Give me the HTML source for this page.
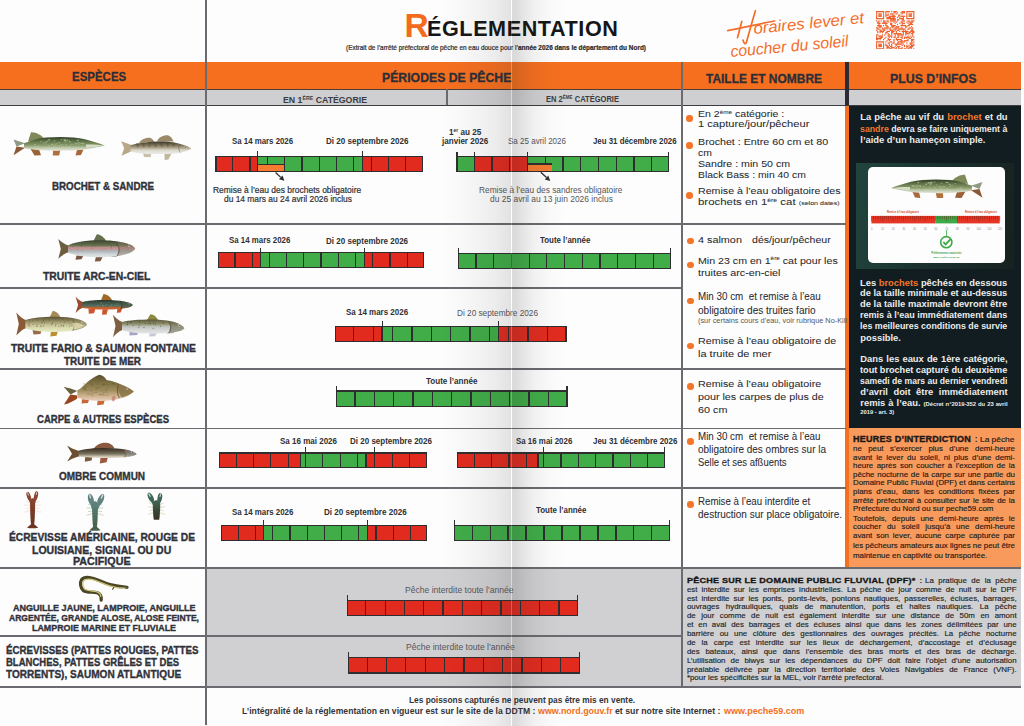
<!DOCTYPE html>
<html><head><meta charset="utf-8"><style>
html,body{margin:0;padding:0;width:1024px;height:726px;overflow:hidden;background:#fdfdfd}
body{position:relative;font-family:"Liberation Sans", sans-serif}
sup{font-size:0.55em;vertical-align:0;position:relative;top:-0.55em}
</style></head><body>
<div style="position:absolute;left:0;top:0;width:1024px;height:726px;background:#fdfdfd"></div>
<div style="position:absolute;left:0px;top:62px;width:1021px;height:27px;background:#f66f1f;"></div>
<div style="position:absolute;left:0px;top:89px;width:1021px;height:16px;background:#cfcfd2;"></div>
<div style="position:absolute;left:207px;top:568px;width:475px;height:119px;background:#d0d0d2;"></div>
<div style="position:absolute;left:683px;top:568px;width:338px;height:119px;background:#d0d0d2;"></div>
<div style="position:absolute;left:849px;top:105px;width:172px;height:323px;background:#111d21;"></div>
<div style="position:absolute;left:849px;top:428px;width:172px;height:140px;background:#f99a5d;"></div>
<div style="position:absolute;left:845px;top:105px;width:4px;height:463px;background:#f66f1f;"></div>
<div style="position:absolute;left:0px;top:88.8px;width:1021px;height:1.6px;background:#4a3e38;"></div>
<div style="position:absolute;left:0px;top:104.5px;width:1021px;height:1.8px;background:#3c3c40;"></div>
<div style="position:absolute;left:0px;top:223.1px;width:846px;height:1.8px;background:#6a6a70;"></div>
<div style="position:absolute;left:0px;top:368.1px;width:846px;height:1.8px;background:#6a6a70;"></div>
<div style="position:absolute;left:0px;top:427.6px;width:846px;height:1.8px;background:#6a6a70;"></div>
<div style="position:absolute;left:0px;top:487.1px;width:846px;height:1.8px;background:#6a6a70;"></div>
<div style="position:absolute;left:0px;top:287.1px;width:682px;height:1.8px;background:#6a6a70;"></div>
<div style="position:absolute;left:0px;top:567.1px;width:1021px;height:1.8px;background:#6a6a70;"></div>
<div style="position:absolute;left:0px;top:635.1px;width:682px;height:1.8px;background:#6a6a70;"></div>
<div style="position:absolute;left:0px;top:686.1px;width:1021px;height:1.8px;background:#6a6a70;"></div>
<div style="position:absolute;left:205.4px;top:0px;width:1.8px;height:725px;background:#6a6a70;"></div>
<div style="position:absolute;left:681.4px;top:62px;width:1.8px;height:625px;background:#6a6a70;"></div>
<div style="position:absolute;left:445.90000000000003px;top:89px;width:1.8px;height:16px;background:#6a6a70;"></div>
<div style="position:absolute;left:845.0px;top:62px;width:4px;height:43px;background:#2a2c35;"></div>
<div style="position:absolute;left:215.4px;top:156.2px;width:207.70px;height:16.200000000000017px;background:#2e2e30"></div>
<div style="position:absolute;left:216.60px;top:157.40px;width:15.51px;height:13.80px;background:#e22b1f"></div>
<div style="position:absolute;left:233.31px;top:157.40px;width:16.11px;height:13.80px;background:#e22b1f"></div>
<div style="position:absolute;left:250.62px;top:157.40px;width:6.48px;height:13.80px;background:#e22b1f"></div>
<div style="position:absolute;left:258.30px;top:157.40px;width:8.42px;height:13.80px;background:#40ad48"></div>
<div style="position:absolute;left:267.92px;top:157.40px;width:16.11px;height:13.80px;background:#40ad48"></div>
<div style="position:absolute;left:285.23px;top:157.40px;width:16.11px;height:13.80px;background:#40ad48"></div>
<div style="position:absolute;left:302.54px;top:157.40px;width:16.11px;height:13.80px;background:#40ad48"></div>
<div style="position:absolute;left:319.85px;top:157.40px;width:16.11px;height:13.80px;background:#40ad48"></div>
<div style="position:absolute;left:337.16px;top:157.40px;width:16.11px;height:13.80px;background:#40ad48"></div>
<div style="position:absolute;left:354.47px;top:157.40px;width:7.43px;height:13.80px;background:#40ad48"></div>
<div style="position:absolute;left:363.10px;top:157.40px;width:7.48px;height:13.80px;background:#e22b1f"></div>
<div style="position:absolute;left:371.78px;top:157.40px;width:16.10px;height:13.80px;background:#e22b1f"></div>
<div style="position:absolute;left:389.08px;top:157.40px;width:16.11px;height:13.80px;background:#e22b1f"></div>
<div style="position:absolute;left:406.39px;top:157.40px;width:15.51px;height:13.80px;background:#e22b1f"></div>
<div style="position:absolute;left:257.7px;top:163.65px;width:26.7px;height:8.748000000000019px;background:#2e2e30;"></div>
<div style="position:absolute;left:258.3px;top:164.85px;width:25.5px;height:6.35px;background:#f47b30;"></div>
<div style="position:absolute;left:257.1px;top:150.5px;width:1.2px;height:6.7px;background:#2e2e30;"></div>
<div style="position:absolute;left:361.9px;top:150.5px;width:1.2px;height:6.7px;background:#2e2e30;"></div>
<svg style="position:absolute;left:0;top:0" width="1024" height="726"><line x1="275.6" y1="172.6" x2="280.74" y2="177.39" stroke="#2e2e30" stroke-width="1.3"/><polygon points="284.4,180.8 278.97,179.29 282.51,175.49" fill="#2e2e30"/></svg>
<div style="position:absolute;left:456.4px;top:156.0px;width:213.00px;height:16.0px;background:#2e2e30"></div>
<div style="position:absolute;left:457.60px;top:157.20px;width:15.95px;height:13.60px;background:#40ad48"></div>
<div style="position:absolute;left:474.75px;top:157.20px;width:16.55px;height:13.60px;background:#e22b1f"></div>
<div style="position:absolute;left:492.50px;top:157.20px;width:16.55px;height:13.60px;background:#e22b1f"></div>
<div style="position:absolute;left:510.25px;top:157.20px;width:16.55px;height:13.60px;background:#e22b1f"></div>
<div style="position:absolute;left:528.00px;top:157.20px;width:16.55px;height:13.60px;background:#40ad48"></div>
<div style="position:absolute;left:545.75px;top:157.20px;width:16.55px;height:13.60px;background:#40ad48"></div>
<div style="position:absolute;left:563.50px;top:157.20px;width:16.55px;height:13.60px;background:#40ad48"></div>
<div style="position:absolute;left:581.25px;top:157.20px;width:16.55px;height:13.60px;background:#40ad48"></div>
<div style="position:absolute;left:599.00px;top:157.20px;width:16.55px;height:13.60px;background:#40ad48"></div>
<div style="position:absolute;left:616.75px;top:157.20px;width:16.55px;height:13.60px;background:#40ad48"></div>
<div style="position:absolute;left:634.50px;top:157.20px;width:16.55px;height:13.60px;background:#40ad48"></div>
<div style="position:absolute;left:652.25px;top:157.20px;width:15.95px;height:13.60px;background:#40ad48"></div>
<div style="position:absolute;left:527.2px;top:163.36px;width:25.3px;height:8.639999999999986px;background:#2e2e30;"></div>
<div style="position:absolute;left:527.8px;top:164.56px;width:24.1px;height:6.24px;background:#f47b30;"></div>
<div style="position:absolute;left:456.4px;top:152.0px;width:1.2px;height:5.0px;background:#2e2e30;"></div>
<div style="position:absolute;left:473.6px;top:152.0px;width:1.2px;height:5.0px;background:#2e2e30;"></div>
<div style="position:absolute;left:526.6px;top:152.0px;width:1.2px;height:5.0px;background:#2e2e30;"></div>
<div style="position:absolute;left:668.2px;top:152.0px;width:1.2px;height:5.0px;background:#2e2e30;"></div>
<svg style="position:absolute;left:0;top:0" width="1024" height="726"><line x1="540.8" y1="172.2" x2="546.53" y2="177.50" stroke="#2e2e30" stroke-width="1.3"/><polygon points="550.2,180.9 544.76,179.41 548.30,175.60" fill="#2e2e30"/></svg>
<div style="position:absolute;left:217.7px;top:252.1px;width:206.70px;height:16.200000000000017px;background:#2e2e30"></div>
<div style="position:absolute;left:218.90px;top:253.30px;width:15.42px;height:13.80px;background:#e22b1f"></div>
<div style="position:absolute;left:235.52px;top:253.30px;width:16.03px;height:13.80px;background:#e22b1f"></div>
<div style="position:absolute;left:252.75px;top:253.30px;width:7.05px;height:13.80px;background:#e22b1f"></div>
<div style="position:absolute;left:261.00px;top:253.30px;width:7.78px;height:13.80px;background:#40ad48"></div>
<div style="position:absolute;left:269.98px;top:253.30px;width:16.02px;height:13.80px;background:#40ad48"></div>
<div style="position:absolute;left:287.20px;top:253.30px;width:16.02px;height:13.80px;background:#40ad48"></div>
<div style="position:absolute;left:304.42px;top:253.30px;width:16.03px;height:13.80px;background:#40ad48"></div>
<div style="position:absolute;left:321.65px;top:253.30px;width:16.02px;height:13.80px;background:#40ad48"></div>
<div style="position:absolute;left:338.87px;top:253.30px;width:16.03px;height:13.80px;background:#40ad48"></div>
<div style="position:absolute;left:356.10px;top:253.30px;width:8.00px;height:13.80px;background:#40ad48"></div>
<div style="position:absolute;left:365.30px;top:253.30px;width:6.82px;height:13.80px;background:#e22b1f"></div>
<div style="position:absolute;left:373.32px;top:253.30px;width:16.03px;height:13.80px;background:#e22b1f"></div>
<div style="position:absolute;left:390.55px;top:253.30px;width:16.02px;height:13.80px;background:#e22b1f"></div>
<div style="position:absolute;left:407.77px;top:253.30px;width:15.43px;height:13.80px;background:#e22b1f"></div>
<div style="position:absolute;left:259.8px;top:247.5px;width:1.2px;height:5.6px;background:#2e2e30;"></div>
<div style="position:absolute;left:364.1px;top:247.5px;width:1.2px;height:5.6px;background:#2e2e30;"></div>
<div style="position:absolute;left:458.2px;top:252.6px;width:212.80px;height:16.299999999999983px;background:#2e2e30"></div>
<div style="position:absolute;left:459.40px;top:253.80px;width:15.93px;height:13.90px;background:#40ad48"></div>
<div style="position:absolute;left:476.53px;top:253.80px;width:16.54px;height:13.90px;background:#40ad48"></div>
<div style="position:absolute;left:494.27px;top:253.80px;width:16.53px;height:13.90px;background:#40ad48"></div>
<div style="position:absolute;left:512.00px;top:253.80px;width:16.53px;height:13.90px;background:#40ad48"></div>
<div style="position:absolute;left:529.73px;top:253.80px;width:16.54px;height:13.90px;background:#40ad48"></div>
<div style="position:absolute;left:547.47px;top:253.80px;width:16.53px;height:13.90px;background:#40ad48"></div>
<div style="position:absolute;left:565.20px;top:253.80px;width:16.53px;height:13.90px;background:#40ad48"></div>
<div style="position:absolute;left:582.93px;top:253.80px;width:16.54px;height:13.90px;background:#40ad48"></div>
<div style="position:absolute;left:600.67px;top:253.80px;width:16.53px;height:13.90px;background:#40ad48"></div>
<div style="position:absolute;left:618.40px;top:253.80px;width:16.53px;height:13.90px;background:#40ad48"></div>
<div style="position:absolute;left:636.13px;top:253.80px;width:16.54px;height:13.90px;background:#40ad48"></div>
<div style="position:absolute;left:653.87px;top:253.80px;width:15.93px;height:13.90px;background:#40ad48"></div>
<div style="position:absolute;left:458.2px;top:248.0px;width:1.2px;height:5.6px;background:#2e2e30;"></div>
<div style="position:absolute;left:669.8px;top:248.0px;width:1.2px;height:5.6px;background:#2e2e30;"></div>
<div style="position:absolute;left:334.5px;top:325.8px;width:232.20px;height:16.0px;background:#2e2e30"></div>
<div style="position:absolute;left:335.70px;top:327.00px;width:17.55px;height:13.60px;background:#e22b1f"></div>
<div style="position:absolute;left:354.45px;top:327.00px;width:18.15px;height:13.60px;background:#e22b1f"></div>
<div style="position:absolute;left:373.80px;top:327.00px;width:7.70px;height:13.60px;background:#e22b1f"></div>
<div style="position:absolute;left:382.70px;top:327.00px;width:9.25px;height:13.60px;background:#40ad48"></div>
<div style="position:absolute;left:393.15px;top:327.00px;width:18.15px;height:13.60px;background:#40ad48"></div>
<div style="position:absolute;left:412.50px;top:327.00px;width:18.15px;height:13.60px;background:#40ad48"></div>
<div style="position:absolute;left:431.85px;top:327.00px;width:18.15px;height:13.60px;background:#40ad48"></div>
<div style="position:absolute;left:451.20px;top:327.00px;width:18.15px;height:13.60px;background:#40ad48"></div>
<div style="position:absolute;left:470.55px;top:327.00px;width:18.15px;height:13.60px;background:#40ad48"></div>
<div style="position:absolute;left:489.90px;top:327.00px;width:8.30px;height:13.60px;background:#40ad48"></div>
<div style="position:absolute;left:499.40px;top:327.00px;width:8.65px;height:13.60px;background:#e22b1f"></div>
<div style="position:absolute;left:509.25px;top:327.00px;width:18.15px;height:13.60px;background:#e22b1f"></div>
<div style="position:absolute;left:528.60px;top:327.00px;width:18.15px;height:13.60px;background:#e22b1f"></div>
<div style="position:absolute;left:547.95px;top:327.00px;width:17.55px;height:13.60px;background:#e22b1f"></div>
<div style="position:absolute;left:381.5px;top:320.5px;width:1.2px;height:6.3px;background:#2e2e30;"></div>
<div style="position:absolute;left:498.2px;top:320.5px;width:1.2px;height:6.3px;background:#2e2e30;"></div>
<div style="position:absolute;left:335.7px;top:390.3px;width:231.90px;height:16.5px;background:#2e2e30"></div>
<div style="position:absolute;left:336.90px;top:391.50px;width:17.52px;height:14.10px;background:#40ad48"></div>
<div style="position:absolute;left:355.62px;top:391.50px;width:18.13px;height:14.10px;background:#40ad48"></div>
<div style="position:absolute;left:374.95px;top:391.50px;width:18.13px;height:14.10px;background:#40ad48"></div>
<div style="position:absolute;left:394.28px;top:391.50px;width:18.12px;height:14.10px;background:#40ad48"></div>
<div style="position:absolute;left:413.60px;top:391.50px;width:18.12px;height:14.10px;background:#40ad48"></div>
<div style="position:absolute;left:432.92px;top:391.50px;width:18.13px;height:14.10px;background:#40ad48"></div>
<div style="position:absolute;left:452.25px;top:391.50px;width:18.13px;height:14.10px;background:#40ad48"></div>
<div style="position:absolute;left:471.58px;top:391.50px;width:18.12px;height:14.10px;background:#40ad48"></div>
<div style="position:absolute;left:490.90px;top:391.50px;width:18.12px;height:14.10px;background:#40ad48"></div>
<div style="position:absolute;left:510.22px;top:391.50px;width:18.13px;height:14.10px;background:#40ad48"></div>
<div style="position:absolute;left:529.55px;top:391.50px;width:18.13px;height:14.10px;background:#40ad48"></div>
<div style="position:absolute;left:548.88px;top:391.50px;width:17.52px;height:14.10px;background:#40ad48"></div>
<div style="position:absolute;left:335.7px;top:385.7px;width:1.2px;height:5.6px;background:#2e2e30;"></div>
<div style="position:absolute;left:566.4px;top:385.7px;width:1.2px;height:5.6px;background:#2e2e30;"></div>
<div style="position:absolute;left:218.9px;top:452.3px;width:207.90px;height:15.5px;background:#2e2e30"></div>
<div style="position:absolute;left:220.10px;top:453.50px;width:15.52px;height:13.10px;background:#e22b1f"></div>
<div style="position:absolute;left:236.82px;top:453.50px;width:16.13px;height:13.10px;background:#e22b1f"></div>
<div style="position:absolute;left:254.15px;top:453.50px;width:16.13px;height:13.10px;background:#e22b1f"></div>
<div style="position:absolute;left:271.48px;top:453.50px;width:16.12px;height:13.10px;background:#e22b1f"></div>
<div style="position:absolute;left:288.80px;top:453.50px;width:11.00px;height:13.10px;background:#e22b1f"></div>
<div style="position:absolute;left:301.00px;top:453.50px;width:3.92px;height:13.10px;background:#40ad48"></div>
<div style="position:absolute;left:306.12px;top:453.50px;width:16.13px;height:13.10px;background:#40ad48"></div>
<div style="position:absolute;left:323.45px;top:453.50px;width:16.13px;height:13.10px;background:#40ad48"></div>
<div style="position:absolute;left:340.78px;top:453.50px;width:16.12px;height:13.10px;background:#40ad48"></div>
<div style="position:absolute;left:358.10px;top:453.50px;width:7.30px;height:13.10px;background:#40ad48"></div>
<div style="position:absolute;left:366.60px;top:453.50px;width:7.62px;height:13.10px;background:#e22b1f"></div>
<div style="position:absolute;left:375.42px;top:453.50px;width:16.13px;height:13.10px;background:#e22b1f"></div>
<div style="position:absolute;left:392.75px;top:453.50px;width:16.13px;height:13.10px;background:#e22b1f"></div>
<div style="position:absolute;left:410.08px;top:453.50px;width:15.52px;height:13.10px;background:#e22b1f"></div>
<div style="position:absolute;left:305.0px;top:447.0px;width:1.2px;height:6.3px;background:#2e2e30;"></div>
<div style="position:absolute;left:373.7px;top:447.0px;width:1.2px;height:6.3px;background:#2e2e30;"></div>
<div style="position:absolute;left:457.0px;top:452.3px;width:208.10px;height:15.699999999999989px;background:#2e2e30"></div>
<div style="position:absolute;left:458.20px;top:453.50px;width:15.54px;height:13.30px;background:#e22b1f"></div>
<div style="position:absolute;left:474.94px;top:453.50px;width:16.14px;height:13.30px;background:#e22b1f"></div>
<div style="position:absolute;left:492.28px;top:453.50px;width:16.14px;height:13.30px;background:#e22b1f"></div>
<div style="position:absolute;left:509.62px;top:453.50px;width:16.15px;height:13.30px;background:#e22b1f"></div>
<div style="position:absolute;left:526.97px;top:453.50px;width:10.33px;height:13.30px;background:#e22b1f"></div>
<div style="position:absolute;left:538.50px;top:453.50px;width:4.61px;height:13.30px;background:#40ad48"></div>
<div style="position:absolute;left:544.31px;top:453.50px;width:16.14px;height:13.30px;background:#40ad48"></div>
<div style="position:absolute;left:561.65px;top:453.50px;width:16.14px;height:13.30px;background:#40ad48"></div>
<div style="position:absolute;left:578.99px;top:453.50px;width:16.14px;height:13.30px;background:#40ad48"></div>
<div style="position:absolute;left:596.33px;top:453.50px;width:16.15px;height:13.30px;background:#40ad48"></div>
<div style="position:absolute;left:613.68px;top:453.50px;width:16.14px;height:13.30px;background:#40ad48"></div>
<div style="position:absolute;left:631.02px;top:453.50px;width:16.14px;height:13.30px;background:#40ad48"></div>
<div style="position:absolute;left:648.36px;top:453.50px;width:15.54px;height:13.30px;background:#40ad48"></div>
<div style="position:absolute;left:542.8px;top:447.0px;width:1.2px;height:6.3px;background:#2e2e30;"></div>
<div style="position:absolute;left:663.9px;top:447.0px;width:1.2px;height:6.3px;background:#2e2e30;"></div>
<div style="position:absolute;left:221.2px;top:525.0px;width:206.30px;height:15.899999999999977px;background:#2e2e30"></div>
<div style="position:absolute;left:222.40px;top:526.20px;width:15.39px;height:13.50px;background:#e22b1f"></div>
<div style="position:absolute;left:238.99px;top:526.20px;width:15.99px;height:13.50px;background:#e22b1f"></div>
<div style="position:absolute;left:256.18px;top:526.20px;width:6.62px;height:13.50px;background:#e22b1f"></div>
<div style="position:absolute;left:264.00px;top:526.20px;width:8.17px;height:13.50px;background:#40ad48"></div>
<div style="position:absolute;left:273.37px;top:526.20px;width:16.00px;height:13.50px;background:#40ad48"></div>
<div style="position:absolute;left:290.57px;top:526.20px;width:15.99px;height:13.50px;background:#40ad48"></div>
<div style="position:absolute;left:307.76px;top:526.20px;width:15.99px;height:13.50px;background:#40ad48"></div>
<div style="position:absolute;left:324.95px;top:526.20px;width:15.99px;height:13.50px;background:#40ad48"></div>
<div style="position:absolute;left:342.14px;top:526.20px;width:15.99px;height:13.50px;background:#40ad48"></div>
<div style="position:absolute;left:359.33px;top:526.20px;width:7.27px;height:13.50px;background:#40ad48"></div>
<div style="position:absolute;left:367.80px;top:526.20px;width:7.52px;height:13.50px;background:#e22b1f"></div>
<div style="position:absolute;left:376.52px;top:526.20px;width:16.00px;height:13.50px;background:#e22b1f"></div>
<div style="position:absolute;left:393.72px;top:526.20px;width:15.99px;height:13.50px;background:#e22b1f"></div>
<div style="position:absolute;left:410.91px;top:526.20px;width:15.39px;height:13.50px;background:#e22b1f"></div>
<div style="position:absolute;left:262.8px;top:519.5px;width:1.2px;height:6.5px;background:#2e2e30;"></div>
<div style="position:absolute;left:366.6px;top:519.5px;width:1.2px;height:6.5px;background:#2e2e30;"></div>
<div style="position:absolute;left:454.2px;top:525.0px;width:215.60px;height:16.299999999999955px;background:#2e2e30"></div>
<div style="position:absolute;left:455.40px;top:526.20px;width:16.17px;height:13.90px;background:#40ad48"></div>
<div style="position:absolute;left:472.77px;top:526.20px;width:16.76px;height:13.90px;background:#40ad48"></div>
<div style="position:absolute;left:490.73px;top:526.20px;width:16.77px;height:13.90px;background:#40ad48"></div>
<div style="position:absolute;left:508.70px;top:526.20px;width:16.77px;height:13.90px;background:#40ad48"></div>
<div style="position:absolute;left:526.67px;top:526.20px;width:16.76px;height:13.90px;background:#40ad48"></div>
<div style="position:absolute;left:544.63px;top:526.20px;width:16.77px;height:13.90px;background:#40ad48"></div>
<div style="position:absolute;left:562.60px;top:526.20px;width:16.77px;height:13.90px;background:#40ad48"></div>
<div style="position:absolute;left:580.57px;top:526.20px;width:16.76px;height:13.90px;background:#40ad48"></div>
<div style="position:absolute;left:598.53px;top:526.20px;width:16.77px;height:13.90px;background:#40ad48"></div>
<div style="position:absolute;left:616.50px;top:526.20px;width:16.77px;height:13.90px;background:#40ad48"></div>
<div style="position:absolute;left:634.47px;top:526.20px;width:16.76px;height:13.90px;background:#40ad48"></div>
<div style="position:absolute;left:652.43px;top:526.20px;width:16.17px;height:13.90px;background:#40ad48"></div>
<div style="position:absolute;left:454.2px;top:519.6px;width:1.2px;height:6.4px;background:#2e2e30;"></div>
<div style="position:absolute;left:668.6px;top:519.6px;width:1.2px;height:6.4px;background:#2e2e30;"></div>
<div style="position:absolute;left:346.5px;top:599.9px;width:231.80px;height:16.200000000000045px;background:#2e2e30"></div>
<div style="position:absolute;left:347.70px;top:601.10px;width:17.52px;height:13.80px;background:#e22b1f"></div>
<div style="position:absolute;left:366.42px;top:601.10px;width:18.11px;height:13.80px;background:#e22b1f"></div>
<div style="position:absolute;left:385.73px;top:601.10px;width:18.12px;height:13.80px;background:#e22b1f"></div>
<div style="position:absolute;left:405.05px;top:601.10px;width:18.12px;height:13.80px;background:#e22b1f"></div>
<div style="position:absolute;left:424.37px;top:601.10px;width:18.11px;height:13.80px;background:#e22b1f"></div>
<div style="position:absolute;left:443.68px;top:601.10px;width:18.12px;height:13.80px;background:#e22b1f"></div>
<div style="position:absolute;left:463.00px;top:601.10px;width:18.12px;height:13.80px;background:#e22b1f"></div>
<div style="position:absolute;left:482.32px;top:601.10px;width:18.11px;height:13.80px;background:#e22b1f"></div>
<div style="position:absolute;left:501.63px;top:601.10px;width:18.12px;height:13.80px;background:#e22b1f"></div>
<div style="position:absolute;left:520.95px;top:601.10px;width:18.12px;height:13.80px;background:#e22b1f"></div>
<div style="position:absolute;left:540.27px;top:601.10px;width:18.11px;height:13.80px;background:#e22b1f"></div>
<div style="position:absolute;left:559.58px;top:601.10px;width:17.52px;height:13.80px;background:#e22b1f"></div>
<div style="position:absolute;left:346.5px;top:595.3px;width:1.2px;height:5.6px;background:#2e2e30;"></div>
<div style="position:absolute;left:577.1px;top:595.3px;width:1.2px;height:5.6px;background:#2e2e30;"></div>
<div style="position:absolute;left:347.8px;top:656.8px;width:232.30px;height:16.800000000000068px;background:#2e2e30"></div>
<div style="position:absolute;left:349.00px;top:658.00px;width:17.56px;height:14.40px;background:#e22b1f"></div>
<div style="position:absolute;left:367.76px;top:658.00px;width:18.16px;height:14.40px;background:#e22b1f"></div>
<div style="position:absolute;left:387.12px;top:658.00px;width:18.16px;height:14.40px;background:#e22b1f"></div>
<div style="position:absolute;left:406.48px;top:658.00px;width:18.15px;height:14.40px;background:#e22b1f"></div>
<div style="position:absolute;left:425.83px;top:658.00px;width:18.16px;height:14.40px;background:#e22b1f"></div>
<div style="position:absolute;left:445.19px;top:658.00px;width:18.16px;height:14.40px;background:#e22b1f"></div>
<div style="position:absolute;left:464.55px;top:658.00px;width:18.16px;height:14.40px;background:#e22b1f"></div>
<div style="position:absolute;left:483.91px;top:658.00px;width:18.16px;height:14.40px;background:#e22b1f"></div>
<div style="position:absolute;left:503.27px;top:658.00px;width:18.16px;height:14.40px;background:#e22b1f"></div>
<div style="position:absolute;left:522.63px;top:658.00px;width:18.15px;height:14.40px;background:#e22b1f"></div>
<div style="position:absolute;left:541.98px;top:658.00px;width:18.16px;height:14.40px;background:#e22b1f"></div>
<div style="position:absolute;left:561.34px;top:658.00px;width:17.56px;height:14.40px;background:#e22b1f"></div>
<div style="position:absolute;left:347.8px;top:651.7px;width:1.2px;height:6.1px;background:#2e2e30;"></div>
<div style="position:absolute;left:578.9px;top:651.7px;width:1.2px;height:6.1px;background:#2e2e30;"></div>
<div style="position:absolute;left:404.6px;top:8.94px;font-size:33.5px;line-height:33.5px;font-weight:700;color:#f46b1e;white-space:nowrap;font-family:'Liberation Sans', sans-serif;letter-spacing:0px;"><span id="t1" style="display:inline-block;">R</span></div>
<div style="position:absolute;left:427.0px;top:18.35px;font-size:22.5px;line-height:22.5px;font-weight:700;color:#161616;white-space:nowrap;font-family:'Liberation Sans', sans-serif;letter-spacing:0.6px;"><span id="t2" style="display:inline-block;transform:scaleX(0.9601);transform-origin:left 0;">ÉGLEMENTATION</span></div>
<div style="position:absolute;left:345.5px;top:44.51px;font-size:6.6px;line-height:6.6px;font-weight:400;color:#2a2a2a;white-space:nowrap;font-family:'Liberation Sans', sans-serif;letter-spacing:0px;-webkit-text-stroke:0.2px #2a2a2a;"><span id="t3" style="display:inline-block;transform:scaleX(0.9791);transform-origin:left 0;">(Extrait de l’arrêté préfectoral de pêche en eau douce pour l’<b>année 2026 dans le département du Nord)</b></span></div>
<div style="position:absolute;left:71.7px;top:70.96px;font-size:12.8px;line-height:12.8px;font-weight:700;color:#2b2e37;white-space:nowrap;font-family:'Liberation Sans', sans-serif;letter-spacing:0px;-webkit-text-stroke:0.3px #2b2e37;"><span id="t4" style="display:inline-block;transform:scaleX(0.8963);transform-origin:left 0;">ESPÈCES</span></div>
<div style="position:absolute;left:382.0px;top:71.66px;font-size:12.8px;line-height:12.8px;font-weight:700;color:#2b2e37;white-space:nowrap;font-family:'Liberation Sans', sans-serif;letter-spacing:0px;-webkit-text-stroke:0.3px #2b2e37;"><span id="t5" style="display:inline-block;transform:scaleX(0.9576);transform-origin:left 0;">PÉRIODES DE PÊCHE</span></div>
<div style="position:absolute;left:705.5px;top:73.16px;font-size:12.8px;line-height:12.8px;font-weight:700;color:#2b2e37;white-space:nowrap;font-family:'Liberation Sans', sans-serif;letter-spacing:0px;-webkit-text-stroke:0.3px #2b2e37;"><span id="t6" style="display:inline-block;transform:scaleX(0.9342);transform-origin:left 0;">TAILLE ET NOMBRE</span></div>
<div style="position:absolute;left:890.4px;top:73.16px;font-size:12.8px;line-height:12.8px;font-weight:700;color:#2b2e37;white-space:nowrap;font-family:'Liberation Sans', sans-serif;letter-spacing:0px;-webkit-text-stroke:0.3px #2b2e37;"><span id="t7" style="display:inline-block;transform:scaleX(0.9644);transform-origin:left 0;">PLUS D’INFOS</span></div>
<div style="position:absolute;left:283.0px;top:96.12px;font-size:8.6px;line-height:8.6px;font-weight:700;color:#3a3b40;white-space:nowrap;font-family:'Liberation Sans', sans-serif;letter-spacing:0px;"><span id="t8" style="display:inline-block;transform:scaleX(1.0174);transform-origin:left 0;">EN 1<span style="font-size:0.6em;position:relative;top:-0.6em">ÈRE</span> CATÉGORIE</span></div>
<div style="position:absolute;left:545.8px;top:94.72px;font-size:8.6px;line-height:8.6px;font-weight:700;color:#3a3b40;white-space:nowrap;font-family:'Liberation Sans', sans-serif;letter-spacing:0px;"><span id="t9" style="display:inline-block;transform:scaleX(0.8780);transform-origin:left 0;">EN 2<span style="font-size:0.6em;position:relative;top:-0.6em">ÈME</span> CATÉGORIE</span></div>
<div style="position:absolute;left:52px;top:181.11px;font-size:10.5px;line-height:10.5px;font-weight:700;color:#30323a;white-space:nowrap;font-family:'Liberation Sans', sans-serif;letter-spacing:0px;-webkit-text-stroke:0.35px #30323a;"><span id="t10" style="display:inline-block;transform:scaleX(0.9300);transform-origin:left 0;">BROCHET &amp; SANDRE</span></div>
<div style="position:absolute;left:42.7px;top:270.81px;font-size:10.5px;line-height:10.5px;font-weight:700;color:#30323a;white-space:nowrap;font-family:'Liberation Sans', sans-serif;letter-spacing:0px;-webkit-text-stroke:0.35px #30323a;"><span id="t11" style="display:inline-block;transform:scaleX(0.9872);transform-origin:left 0;">TRUITE ARC-EN-CIEL</span></div>
<div style="position:absolute;left:11px;top:343.11px;font-size:10.5px;line-height:10.5px;font-weight:700;color:#30323a;white-space:nowrap;font-family:'Liberation Sans', sans-serif;letter-spacing:0px;-webkit-text-stroke:0.35px #30323a;"><span id="t12" style="display:inline-block;transform:scaleX(0.9798);transform-origin:left 0;">TRUITE FARIO &amp; SAUMON FONTAINE</span></div>
<div style="position:absolute;left:64px;top:356.01px;font-size:10.5px;line-height:10.5px;font-weight:700;color:#30323a;white-space:nowrap;font-family:'Liberation Sans', sans-serif;letter-spacing:0px;-webkit-text-stroke:0.35px #30323a;"><span id="t13" style="display:inline-block;transform:scaleX(0.9428);transform-origin:left 0;">TRUITE DE MER</span></div>
<div style="position:absolute;left:37px;top:413.81px;font-size:10.5px;line-height:10.5px;font-weight:700;color:#30323a;white-space:nowrap;font-family:'Liberation Sans', sans-serif;letter-spacing:0px;-webkit-text-stroke:0.35px #30323a;"><span id="t14" style="display:inline-block;transform:scaleX(0.9073);transform-origin:left 0;">CARPE &amp; AUTRES ESPÈCES</span></div>
<div style="position:absolute;left:58.8px;top:471.11px;font-size:10.5px;line-height:10.5px;font-weight:700;color:#30323a;white-space:nowrap;font-family:'Liberation Sans', sans-serif;letter-spacing:0px;-webkit-text-stroke:0.35px #30323a;"><span id="t15" style="display:inline-block;transform:scaleX(0.9522);transform-origin:left 0;">OMBRE COMMUN</span></div>
<div style="position:absolute;left:9px;top:532.41px;font-size:10.5px;line-height:10.5px;font-weight:700;color:#30323a;white-space:nowrap;font-family:'Liberation Sans', sans-serif;letter-spacing:0px;-webkit-text-stroke:0.35px #30323a;"><span id="t16" style="display:inline-block;transform:scaleX(0.9739);transform-origin:left 0;">ÉCREVISSE AMÉRICAINE, ROUGE DE</span></div>
<div style="position:absolute;left:32px;top:544.51px;font-size:10.5px;line-height:10.5px;font-weight:700;color:#30323a;white-space:nowrap;font-family:'Liberation Sans', sans-serif;letter-spacing:0px;-webkit-text-stroke:0.35px #30323a;"><span id="t17" style="display:inline-block;">LOUISIANE, SIGNAL OU DU</span></div>
<div style="position:absolute;left:73.4px;top:555.61px;font-size:10.5px;line-height:10.5px;font-weight:700;color:#30323a;white-space:nowrap;font-family:'Liberation Sans', sans-serif;letter-spacing:0px;-webkit-text-stroke:0.35px #30323a;"><span id="t18" style="display:inline-block;transform:scaleX(1.0212);transform-origin:left 0;">PACIFIQUE</span></div>
<div style="position:absolute;left:13px;top:604.45px;font-size:8.8px;line-height:8.8px;font-weight:700;color:#30323a;white-space:nowrap;font-family:'Liberation Sans', sans-serif;letter-spacing:0px;-webkit-text-stroke:0.35px #30323a;"><span id="t19" style="display:inline-block;transform:scaleX(1.0255);transform-origin:left 0;">ANGUILLE JAUNE, LAMPROIE, ANGUILLE</span></div>
<div style="position:absolute;left:9px;top:613.85px;font-size:8.8px;line-height:8.8px;font-weight:700;color:#30323a;white-space:nowrap;font-family:'Liberation Sans', sans-serif;letter-spacing:0px;-webkit-text-stroke:0.35px #30323a;"><span id="t20" style="display:inline-block;transform:scaleX(0.9726);transform-origin:left 0;">ARGENTÉE, GRANDE ALOSE, ALOSE FEINTE,</span></div>
<div style="position:absolute;left:32px;top:623.55px;font-size:8.8px;line-height:8.8px;font-weight:700;color:#30323a;white-space:nowrap;font-family:'Liberation Sans', sans-serif;letter-spacing:0px;-webkit-text-stroke:0.35px #30323a;"><span id="t21" style="display:inline-block;transform:scaleX(1.0090);transform-origin:left 0;">LAMPROIE MARINE ET FLUVIALE</span></div>
<div style="position:absolute;left:5.6px;top:644.77px;font-size:10.9px;line-height:10.9px;font-weight:700;color:#30323a;white-space:nowrap;font-family:'Liberation Sans', sans-serif;letter-spacing:0px;-webkit-text-stroke:0.35px #30323a;"><span id="t22" style="display:inline-block;transform:scaleX(0.8939);transform-origin:left 0;">ÉCREVISSES (PATTES ROUGES, PATTES</span></div>
<div style="position:absolute;left:5.6px;top:656.77px;font-size:10.9px;line-height:10.9px;font-weight:700;color:#30323a;white-space:nowrap;font-family:'Liberation Sans', sans-serif;letter-spacing:0px;-webkit-text-stroke:0.35px #30323a;"><span id="t23" style="display:inline-block;transform:scaleX(0.8739);transform-origin:left 0;">BLANCHES, PATTES GRÊLES ET DES</span></div>
<div style="position:absolute;left:5.6px;top:668.77px;font-size:10.9px;line-height:10.9px;font-weight:700;color:#30323a;white-space:nowrap;font-family:'Liberation Sans', sans-serif;letter-spacing:0px;-webkit-text-stroke:0.35px #30323a;"><span id="t24" style="display:inline-block;transform:scaleX(0.9226);transform-origin:left 0;">TORRENTS), SAUMON ATLANTIQUE</span></div>
<div style="position:absolute;left:232.1px;top:136.52px;font-size:8.6px;line-height:8.6px;font-weight:700;color:#2f3034;white-space:nowrap;font-family:'Liberation Sans', sans-serif;letter-spacing:0px;"><span id="t25" style="display:inline-block;transform:scaleX(0.9132);transform-origin:left 0;">Sa 14 mars 2026</span></div>
<div style="position:absolute;left:325.5px;top:136.52px;font-size:8.6px;line-height:8.6px;font-weight:700;color:#2f3034;white-space:nowrap;font-family:'Liberation Sans', sans-serif;letter-spacing:0px;"><span id="t26" style="display:inline-block;transform:scaleX(0.9374);transform-origin:left 0;">Di 20 septembre 2026</span></div>
<div style="position:absolute;left:213.4px;top:185.52px;font-size:8.6px;line-height:8.6px;font-weight:400;color:#303136;white-space:nowrap;font-family:'Liberation Sans', sans-serif;letter-spacing:0px;-webkit-text-stroke:0.2px #303136;"><span id="t27" style="display:inline-block;transform:scaleX(0.9848);transform-origin:left 0;">Remise à l’eau des brochets obligatoire</span></div>
<div style="position:absolute;left:223.9px;top:194.52px;font-size:8.6px;line-height:8.6px;font-weight:400;color:#303136;white-space:nowrap;font-family:'Liberation Sans', sans-serif;letter-spacing:0px;-webkit-text-stroke:0.2px #303136;"><span id="t28" style="display:inline-block;transform:scaleX(0.9778);transform-origin:left 0;">du 14 mars au 24 avril 2026 inclus</span></div>
<div style="position:absolute;left:448.8px;top:127.72px;font-size:8.6px;line-height:8.6px;font-weight:700;color:#2f3034;white-space:nowrap;font-family:'Liberation Sans', sans-serif;letter-spacing:0px;"><span id="t29" style="display:inline-block;transform:scaleX(0.9462);transform-origin:left 0;">1<span style="font-size:0.6em;position:relative;top:-0.6em">er</span> au 25</span></div>
<div style="position:absolute;left:441.8px;top:136.72px;font-size:8.6px;line-height:8.6px;font-weight:700;color:#2f3034;white-space:nowrap;font-family:'Liberation Sans', sans-serif;letter-spacing:0px;"><span id="t30" style="display:inline-block;transform:scaleX(0.9387);transform-origin:left 0;">janvier 2026</span></div>
<div style="position:absolute;left:507.7px;top:136.72px;font-size:8.6px;line-height:8.6px;font-weight:400;color:#55565a;white-space:nowrap;font-family:'Liberation Sans', sans-serif;letter-spacing:0px;"><span id="t31" style="display:inline-block;transform:scaleX(0.9338);transform-origin:left 0;">Sa 25 avril 2026</span></div>
<div style="position:absolute;left:593.3px;top:136.72px;font-size:8.6px;line-height:8.6px;font-weight:700;color:#2f3034;white-space:nowrap;font-family:'Liberation Sans', sans-serif;letter-spacing:0px;"><span id="t32" style="display:inline-block;transform:scaleX(0.9151);transform-origin:left 0;">Jeu 31 décembre 2026</span></div>
<div style="position:absolute;left:479.1px;top:185.52px;font-size:8.6px;line-height:8.6px;font-weight:400;color:#55565a;white-space:nowrap;font-family:'Liberation Sans', sans-serif;letter-spacing:0px;"><span id="t33" style="display:inline-block;transform:scaleX(0.9690);transform-origin:left 0;">Remise à l’eau des sandres obligatoire</span></div>
<div style="position:absolute;left:490.0px;top:195.02px;font-size:8.6px;line-height:8.6px;font-weight:400;color:#55565a;white-space:nowrap;font-family:'Liberation Sans', sans-serif;letter-spacing:0px;"><span id="t34" style="display:inline-block;transform:scaleX(0.9818);transform-origin:left 0;">du 25 avril au 13 juin 2026 inclus</span></div>
<div style="position:absolute;left:229.4px;top:236.02px;font-size:8.6px;line-height:8.6px;font-weight:700;color:#2f3034;white-space:nowrap;font-family:'Liberation Sans', sans-serif;letter-spacing:0px;"><span id="t35" style="display:inline-block;transform:scaleX(0.9162);transform-origin:left 0;">Sa 14 mars 2026</span></div>
<div style="position:absolute;left:326.4px;top:236.72px;font-size:8.6px;line-height:8.6px;font-weight:700;color:#2f3034;white-space:nowrap;font-family:'Liberation Sans', sans-serif;letter-spacing:0px;"><span id="t36" style="display:inline-block;transform:scaleX(0.9339);transform-origin:left 0;">Di 20 septembre 2026</span></div>
<div style="position:absolute;left:539.7px;top:235.92px;font-size:8.6px;line-height:8.6px;font-weight:700;color:#2f3034;white-space:nowrap;font-family:'Liberation Sans', sans-serif;letter-spacing:0px;"><span id="t37" style="display:inline-block;transform:scaleX(0.9185);transform-origin:left 0;">Toute l’année</span></div>
<div style="position:absolute;left:345.8px;top:308.32px;font-size:8.6px;line-height:8.6px;font-weight:700;color:#2f3034;white-space:nowrap;font-family:'Liberation Sans', sans-serif;letter-spacing:0px;"><span id="t38" style="display:inline-block;transform:scaleX(0.9282);transform-origin:left 0;">Sa 14 mars 2026</span></div>
<div style="position:absolute;left:457.0px;top:308.52px;font-size:8.6px;line-height:8.6px;font-weight:400;color:#55565a;white-space:nowrap;font-family:'Liberation Sans', sans-serif;letter-spacing:0px;"><span id="t39" style="display:inline-block;transform:scaleX(0.9579);transform-origin:left 0;">Di 20 septembre 2026</span></div>
<div style="position:absolute;left:426.0px;top:376.72px;font-size:8.6px;line-height:8.6px;font-weight:700;color:#2f3034;white-space:nowrap;font-family:'Liberation Sans', sans-serif;letter-spacing:0px;"><span id="t40" style="display:inline-block;transform:scaleX(0.9385);transform-origin:left 0;">Toute l’année</span></div>
<div style="position:absolute;left:279.8px;top:436.72px;font-size:8.6px;line-height:8.6px;font-weight:700;color:#2f3034;white-space:nowrap;font-family:'Liberation Sans', sans-serif;letter-spacing:0px;"><span id="t41" style="display:inline-block;transform:scaleX(0.9318);transform-origin:left 0;">Sa 16 mai 2026</span></div>
<div style="position:absolute;left:350.0px;top:436.72px;font-size:8.6px;line-height:8.6px;font-weight:700;color:#2f3034;white-space:nowrap;font-family:'Liberation Sans', sans-serif;letter-spacing:0px;"><span id="t42" style="display:inline-block;transform:scaleX(0.9328);transform-origin:left 0;">Di 20 septembre 2026</span></div>
<div style="position:absolute;left:516.3px;top:436.72px;font-size:8.6px;line-height:8.6px;font-weight:700;color:#2f3034;white-space:nowrap;font-family:'Liberation Sans', sans-serif;letter-spacing:0px;"><span id="t43" style="display:inline-block;transform:scaleX(0.9204);transform-origin:left 0;">Sa 16 mai 2026</span></div>
<div style="position:absolute;left:592.5px;top:436.72px;font-size:8.6px;line-height:8.6px;font-weight:700;color:#2f3034;white-space:nowrap;font-family:'Liberation Sans', sans-serif;letter-spacing:0px;"><span id="t44" style="display:inline-block;transform:scaleX(0.9238);transform-origin:left 0;">Jeu 31 décembre 2026</span></div>
<div style="position:absolute;left:231.8px;top:508.32px;font-size:8.6px;line-height:8.6px;font-weight:700;color:#2f3034;white-space:nowrap;font-family:'Liberation Sans', sans-serif;letter-spacing:0px;"><span id="t45" style="display:inline-block;transform:scaleX(0.9177);transform-origin:left 0;">Sa 14 mars 2026</span></div>
<div style="position:absolute;left:324.3px;top:508.32px;font-size:8.6px;line-height:8.6px;font-weight:700;color:#2f3034;white-space:nowrap;font-family:'Liberation Sans', sans-serif;letter-spacing:0px;"><span id="t46" style="display:inline-block;transform:scaleX(0.9408);transform-origin:left 0;">Di 20 septembre 2026</span></div>
<div style="position:absolute;left:536.2px;top:505.72px;font-size:8.6px;line-height:8.6px;font-weight:700;color:#2f3034;white-space:nowrap;font-family:'Liberation Sans', sans-serif;letter-spacing:0px;"><span id="t47" style="display:inline-block;transform:scaleX(0.9203);transform-origin:left 0;">Toute l’année</span></div>
<div style="position:absolute;left:405.4px;top:585.52px;font-size:8.6px;line-height:8.6px;font-weight:400;color:#55565a;white-space:nowrap;font-family:'Liberation Sans', sans-serif;letter-spacing:0px;"><span id="t48" style="display:inline-block;transform:scaleX(0.9969);transform-origin:left 0;">Pêche interdite toute l’année</span></div>
<div style="position:absolute;left:406.2px;top:643.42px;font-size:8.6px;line-height:8.6px;font-weight:400;color:#55565a;white-space:nowrap;font-family:'Liberation Sans', sans-serif;letter-spacing:0px;"><span id="t49" style="display:inline-block;transform:scaleX(0.9978);transform-origin:left 0;">Pêche interdite toute l’année</span></div>
<div style="position:absolute;left:409.3px;top:696.09px;font-size:8.4px;line-height:8.4px;font-weight:700;color:#34353a;white-space:nowrap;font-family:'Liberation Sans', sans-serif;letter-spacing:0px;"><span id="t50" style="display:inline-block;transform:scaleX(0.9954);transform-origin:left 0;">Les poissons capturés ne peuvent pas être mis en vente.</span></div>
<div style="position:absolute;left:241.7px;top:707.29px;font-size:8.4px;line-height:8.4px;font-weight:700;color:#34353a;white-space:nowrap;font-family:'Liberation Sans', sans-serif;letter-spacing:0px;"><span id="t51" style="display:inline-block;transform:scaleX(1.0321);transform-origin:left 0;">L’intégralité de la réglementation en vigueur est sur le site de la DDTM :</span></div>
<div style="position:absolute;left:538.1px;top:707.29px;font-size:8.4px;line-height:8.4px;font-weight:700;color:#f36f22;white-space:nowrap;font-family:'Liberation Sans', sans-serif;letter-spacing:0px;"><span id="t52" style="display:inline-block;transform:scaleX(1.0633);transform-origin:left 0;">www.nord.gouv.fr</span></div>
<div style="position:absolute;left:614.9px;top:707.29px;font-size:8.4px;line-height:8.4px;font-weight:700;color:#34353a;white-space:nowrap;font-family:'Liberation Sans', sans-serif;letter-spacing:0px;"><span id="t53" style="display:inline-block;transform:scaleX(1.0437);transform-origin:left 0;">et sur notre site Internet :</span></div>
<div style="position:absolute;left:724.1px;top:707.29px;font-size:8.4px;line-height:8.4px;font-weight:700;color:#f36f22;white-space:nowrap;font-family:'Liberation Sans', sans-serif;letter-spacing:0px;"><span id="t54" style="display:inline-block;transform:scaleX(1.0745);transform-origin:left 0;">www.peche59.com</span></div>
<div style="position:absolute;left:686.10px;top:115.00px;width:6.6px;height:6.6px;border-radius:50%;background:#f3752a"></div>
<div style="position:absolute;left:686.10px;top:142.30px;width:6.6px;height:6.6px;border-radius:50%;background:#f3752a"></div>
<div style="position:absolute;left:686.10px;top:192.20px;width:6.6px;height:6.6px;border-radius:50%;background:#f3752a"></div>
<div style="position:absolute;left:687.10px;top:237.60px;width:6.6px;height:6.6px;border-radius:50%;background:#f3752a"></div>
<div style="position:absolute;left:687.10px;top:261.90px;width:6.6px;height:6.6px;border-radius:50%;background:#f3752a"></div>
<div style="position:absolute;left:687.10px;top:297.90px;width:6.6px;height:6.6px;border-radius:50%;background:#f3752a"></div>
<div style="position:absolute;left:687.10px;top:342.90px;width:6.6px;height:6.6px;border-radius:50%;background:#f3752a"></div>
<div style="position:absolute;left:687.10px;top:383.40px;width:6.6px;height:6.6px;border-radius:50%;background:#f3752a"></div>
<div style="position:absolute;left:687.10px;top:438.10px;width:6.6px;height:6.6px;border-radius:50%;background:#f3752a"></div>
<div style="position:absolute;left:687.10px;top:501.30px;width:6.6px;height:6.6px;border-radius:50%;background:#f3752a"></div>
<div style="position:absolute;left:698.2px;top:108.99px;font-size:9.7px;line-height:9.7px;font-weight:400;color:#2a2b30;white-space:nowrap;font-family:'Liberation Sans', sans-serif;letter-spacing:0px;-webkit-text-stroke:0.06px #2a2b30;"><span id="t55" style="display:inline-block;transform:scaleX(1.0898);transform-origin:left 0;">En 2<span style="font-size:0.6em;position:relative;top:-0.6em">ème</span> catégorie :</span></div>
<div style="position:absolute;left:698.2px;top:119.29px;font-size:9.7px;line-height:9.7px;font-weight:400;color:#2a2b30;white-space:nowrap;font-family:'Liberation Sans', sans-serif;letter-spacing:0px;-webkit-text-stroke:0.06px #2a2b30;"><span id="t56" style="display:inline-block;transform:scaleX(1.1492);transform-origin:left 0;">1 capture/jour/pêcheur</span></div>
<div style="position:absolute;left:698.2px;top:136.59px;font-size:9.7px;line-height:9.7px;font-weight:400;color:#2a2b30;white-space:nowrap;font-family:'Liberation Sans', sans-serif;letter-spacing:0px;-webkit-text-stroke:0.06px #2a2b30;"><span id="t57" style="display:inline-block;transform:scaleX(1.1031);transform-origin:left 0;">Brochet : Entre 60 cm et 80</span></div>
<div style="position:absolute;left:698.2px;top:148.19px;font-size:9.7px;line-height:9.7px;font-weight:400;color:#2a2b30;white-space:nowrap;font-family:'Liberation Sans', sans-serif;letter-spacing:0px;-webkit-text-stroke:0.06px #2a2b30;"><span id="t58" style="display:inline-block;transform:scaleX(1.0757);transform-origin:left 0;">cm</span></div>
<div style="position:absolute;left:698.2px;top:158.99px;font-size:9.7px;line-height:9.7px;font-weight:400;color:#2a2b30;white-space:nowrap;font-family:'Liberation Sans', sans-serif;letter-spacing:0px;-webkit-text-stroke:0.06px #2a2b30;"><span id="t59" style="display:inline-block;transform:scaleX(1.0964);transform-origin:left 0;">Sandre : min 50 cm</span></div>
<div style="position:absolute;left:698.2px;top:169.69px;font-size:9.7px;line-height:9.7px;font-weight:400;color:#2a2b30;white-space:nowrap;font-family:'Liberation Sans', sans-serif;letter-spacing:0px;-webkit-text-stroke:0.06px #2a2b30;"><span id="t60" style="display:inline-block;transform:scaleX(1.0706);transform-origin:left 0;">Black Bass : min 40 cm</span></div>
<div style="position:absolute;left:698.2px;top:186.19px;font-size:9.7px;line-height:9.7px;font-weight:400;color:#2a2b30;white-space:nowrap;font-family:'Liberation Sans', sans-serif;letter-spacing:0px;-webkit-text-stroke:0.06px #2a2b30;"><span id="t61" style="display:inline-block;transform:scaleX(1.0980);transform-origin:left 0;">Remise à l’eau obligatoire des</span></div>
<div style="position:absolute;left:698.2px;top:196.99px;font-size:9.7px;line-height:9.7px;font-weight:400;color:#2a2b30;white-space:nowrap;font-family:'Liberation Sans', sans-serif;letter-spacing:0px;-webkit-text-stroke:0.06px #2a2b30;"><span id="t62" style="display:inline-block;transform:scaleX(1.1798);transform-origin:left 0;">brochets en 1<span style="font-size:0.6em;position:relative;top:-0.6em">ère</span> cat <span style="font-size:0.62em">(selon dates)</span></span></div>
<div style="position:absolute;left:698.0px;top:234.89px;font-size:9.7px;line-height:9.7px;font-weight:400;color:#2a2b30;white-space:nowrap;font-family:'Liberation Sans', sans-serif;letter-spacing:0px;-webkit-text-stroke:0.06px #2a2b30;"><span id="t63" style="display:inline-block;transform:scaleX(1.1167);transform-origin:left 0;">4 salmon</span></div>
<div style="position:absolute;left:752.0px;top:234.89px;font-size:9.7px;line-height:9.7px;font-weight:400;color:#2a2b30;white-space:nowrap;font-family:'Liberation Sans', sans-serif;letter-spacing:0px;-webkit-text-stroke:0.06px #2a2b30;"><span id="t64" style="display:inline-block;transform:scaleX(1.0905);transform-origin:left 0;">dés/jour/pêcheur</span></div>
<div style="position:absolute;left:698.0px;top:255.59px;font-size:9.7px;line-height:9.7px;font-weight:400;color:#2a2b30;white-space:nowrap;font-family:'Liberation Sans', sans-serif;letter-spacing:0px;-webkit-text-stroke:0.06px #2a2b30;"><span id="t65" style="display:inline-block;transform:scaleX(1.0964);transform-origin:left 0;">Min 23 cm en 1<span style="font-size:0.6em;position:relative;top:-0.6em">ère</span> cat pour les</span></div>
<div style="position:absolute;left:698.0px;top:267.99px;font-size:9.7px;line-height:9.7px;font-weight:400;color:#2a2b30;white-space:nowrap;font-family:'Liberation Sans', sans-serif;letter-spacing:0px;-webkit-text-stroke:0.06px #2a2b30;"><span id="t66" style="display:inline-block;transform:scaleX(1.1104);transform-origin:left 0;">truites arc-en-ciel</span></div>
<div style="position:absolute;left:698.0px;top:290.57px;font-size:10.9px;line-height:10.9px;font-weight:400;color:#2a2b30;white-space:nowrap;font-family:'Liberation Sans', sans-serif;letter-spacing:0px;-webkit-text-stroke:0.06px #2a2b30;"><span id="t67" style="display:inline-block;transform:scaleX(0.9010);transform-origin:left 0;">Min 30 cm&nbsp; et remise à l’eau</span></div>
<div style="position:absolute;left:698.0px;top:305.17px;font-size:10.9px;line-height:10.9px;font-weight:400;color:#2a2b30;white-space:nowrap;font-family:'Liberation Sans', sans-serif;letter-spacing:0px;-webkit-text-stroke:0.06px #2a2b30;"><span id="t68" style="display:inline-block;transform:scaleX(0.9207);transform-origin:left 0;">obligatoire des truites fario</span></div>
<div style="position:absolute;left:698.0px;top:318.17px;font-size:6.3px;line-height:6.3px;font-weight:400;color:#55565a;white-space:nowrap;font-family:'Liberation Sans', sans-serif;letter-spacing:0px;"><span id="t69" style="display:inline-block;transform:scaleX(1.1663);transform-origin:left 0;">(sur certains cours d’eau, voir rubrique No-Kill</span></div>
<div style="position:absolute;left:698.0px;top:336.39px;font-size:9.7px;line-height:9.7px;font-weight:400;color:#2a2b30;white-space:nowrap;font-family:'Liberation Sans', sans-serif;letter-spacing:0px;-webkit-text-stroke:0.06px #2a2b30;"><span id="t70" style="display:inline-block;transform:scaleX(1.1070);transform-origin:left 0;">Remise à l’eau obligatoire de</span></div>
<div style="position:absolute;left:698.0px;top:349.39px;font-size:9.7px;line-height:9.7px;font-weight:400;color:#2a2b30;white-space:nowrap;font-family:'Liberation Sans', sans-serif;letter-spacing:0px;-webkit-text-stroke:0.06px #2a2b30;"><span id="t71" style="display:inline-block;transform:scaleX(1.1358);transform-origin:left 0;">la truite de mer</span></div>
<div style="position:absolute;left:698.0px;top:379.09px;font-size:9.7px;line-height:9.7px;font-weight:400;color:#2a2b30;white-space:nowrap;font-family:'Liberation Sans', sans-serif;letter-spacing:0px;-webkit-text-stroke:0.06px #2a2b30;"><span id="t72" style="display:inline-block;transform:scaleX(1.1052);transform-origin:left 0;">Remise à l’eau obligatoire</span></div>
<div style="position:absolute;left:698.0px;top:391.69px;font-size:9.7px;line-height:9.7px;font-weight:400;color:#2a2b30;white-space:nowrap;font-family:'Liberation Sans', sans-serif;letter-spacing:0px;-webkit-text-stroke:0.06px #2a2b30;"><span id="t73" style="display:inline-block;transform:scaleX(1.1070);transform-origin:left 0;">pour les carpes de plus de</span></div>
<div style="position:absolute;left:698.0px;top:404.99px;font-size:9.7px;line-height:9.7px;font-weight:400;color:#2a2b30;white-space:nowrap;font-family:'Liberation Sans', sans-serif;letter-spacing:0px;-webkit-text-stroke:0.06px #2a2b30;"><span id="t74" style="display:inline-block;transform:scaleX(1.1140);transform-origin:left 0;">60 cm</span></div>
<div style="position:absolute;left:698.0px;top:430.57px;font-size:10.9px;line-height:10.9px;font-weight:400;color:#2a2b30;white-space:nowrap;font-family:'Liberation Sans', sans-serif;letter-spacing:0px;-webkit-text-stroke:0.06px #2a2b30;"><span id="t75" style="display:inline-block;transform:scaleX(0.8995);transform-origin:left 0;">Min 30 cm&nbsp; et remise à l’eau</span></div>
<div style="position:absolute;left:698.0px;top:443.87px;font-size:10.9px;line-height:10.9px;font-weight:400;color:#2a2b30;white-space:nowrap;font-family:'Liberation Sans', sans-serif;letter-spacing:0px;-webkit-text-stroke:0.06px #2a2b30;"><span id="t76" style="display:inline-block;transform:scaleX(0.9153);transform-origin:left 0;">obligatoire des ombres sur la</span></div>
<div style="position:absolute;left:698.0px;top:457.17px;font-size:10.9px;line-height:10.9px;font-weight:400;color:#2a2b30;white-space:nowrap;font-family:'Liberation Sans', sans-serif;letter-spacing:0px;-webkit-text-stroke:0.06px #2a2b30;"><span id="t77" style="display:inline-block;transform:scaleX(0.8712);transform-origin:left 0;">Selle et ses afßuents</span></div>
<div style="position:absolute;left:698.0px;top:495.57px;font-size:10.9px;line-height:10.9px;font-weight:400;color:#2a2b30;white-space:nowrap;font-family:'Liberation Sans', sans-serif;letter-spacing:0px;-webkit-text-stroke:0.06px #2a2b30;"><span id="t78" style="display:inline-block;transform:scaleX(0.8902);transform-origin:left 0;">Remise à l’eau interdite et</span></div>
<div style="position:absolute;left:698.0px;top:508.77px;font-size:10.9px;line-height:10.9px;font-weight:400;color:#2a2b30;white-space:nowrap;font-family:'Liberation Sans', sans-serif;letter-spacing:0px;-webkit-text-stroke:0.06px #2a2b30;"><span id="t79" style="display:inline-block;transform:scaleX(0.9184);transform-origin:left 0;">destruction sur place obligatoire.</span></div>
<div style="position:absolute;left:860.3px;top:112.34px;font-size:9.4px;line-height:9.4px;font-weight:700;color:#ececec;white-space:nowrap;font-family:'Liberation Sans', sans-serif;"><span id="t80" style="display:inline-block;word-spacing:0.500px;">La pêche au vif du <span style="color:#f3762a">brochet</span> et du</span></div>
<div style="position:absolute;left:860.3px;top:123.94px;font-size:9.4px;line-height:9.4px;font-weight:700;color:#ececec;white-space:nowrap;font-family:'Liberation Sans', sans-serif;"><span id="t81" style="display:inline-block;transform:scaleX(0.9361);transform-origin:left 0;"><span style="color:#f3762a">sandre</span> devra se faire uniquement à</span></div>
<div style="position:absolute;left:860.3px;top:134.94px;font-size:9.4px;line-height:9.4px;font-weight:700;color:#ececec;white-space:nowrap;font-family:'Liberation Sans', sans-serif;"><span id="t82" style="display:inline-block;">l’aide d’un hameçon simple.</span></div>
<div style="position:absolute;left:860.3px;top:277.54px;font-size:9.4px;line-height:9.4px;font-weight:700;color:#ececec;white-space:nowrap;font-family:'Liberation Sans', sans-serif;"><span id="t83" style="display:inline-block;transform:scaleX(0.9989);transform-origin:left 0;">Les <span style="color:#f3762a">brochets</span> pêchés en dessous</span></div>
<div style="position:absolute;left:860.3px;top:288.44px;font-size:9.4px;line-height:9.4px;font-weight:700;color:#ececec;white-space:nowrap;font-family:'Liberation Sans', sans-serif;"><span id="t84" style="display:inline-block;transform:scaleX(0.9919);transform-origin:left 0;">de la taille minimale et au-dessus</span></div>
<div style="position:absolute;left:860.3px;top:299.14px;font-size:9.4px;line-height:9.4px;font-weight:700;color:#ececec;white-space:nowrap;font-family:'Liberation Sans', sans-serif;"><span id="t85" style="display:inline-block;transform:scaleX(0.9989);transform-origin:left 0;">de la taille maximale devront être</span></div>
<div style="position:absolute;left:860.3px;top:309.84px;font-size:9.4px;line-height:9.4px;font-weight:700;color:#ececec;white-space:nowrap;font-family:'Liberation Sans', sans-serif;"><span id="t86" style="display:inline-block;transform:scaleX(0.9648);transform-origin:left 0;">remis à l’eau immédiatement dans</span></div>
<div style="position:absolute;left:860.3px;top:321.24px;font-size:9.4px;line-height:9.4px;font-weight:700;color:#ececec;white-space:nowrap;font-family:'Liberation Sans', sans-serif;"><span id="t87" style="display:inline-block;transform:scaleX(0.9455);transform-origin:left 0;">les meilleures conditions de survie</span></div>
<div style="position:absolute;left:860.3px;top:332.64px;font-size:9.4px;line-height:9.4px;font-weight:700;color:#ececec;white-space:nowrap;font-family:'Liberation Sans', sans-serif;"><span id="t88" style="display:inline-block;">possible.</span></div>
<div style="position:absolute;left:860.3px;top:354.24px;font-size:9.4px;line-height:9.4px;font-weight:700;color:#ececec;white-space:nowrap;font-family:'Liberation Sans', sans-serif;"><span id="t89" style="display:inline-block;word-spacing:0.485px;">Dans les eaux de 1ère catégorie,</span></div>
<div style="position:absolute;left:860.3px;top:364.84px;font-size:9.4px;line-height:9.4px;font-weight:700;color:#ececec;white-space:nowrap;font-family:'Liberation Sans', sans-serif;"><span id="t90" style="display:inline-block;transform:scaleX(0.9751);transform-origin:left 0;">tout brochet capturé du deuxième</span></div>
<div style="position:absolute;left:860.3px;top:376.24px;font-size:9.4px;line-height:9.4px;font-weight:700;color:#ececec;white-space:nowrap;font-family:'Liberation Sans', sans-serif;"><span id="t91" style="display:inline-block;transform:scaleX(0.9178);transform-origin:left 0;">samedi de mars au dernier vendredi</span></div>
<div style="position:absolute;left:860.3px;top:387.14px;font-size:9.4px;line-height:9.4px;font-weight:700;color:#ececec;white-space:nowrap;font-family:'Liberation Sans', sans-serif;"><span id="t92" style="display:inline-block;word-spacing:2.902px;">d’avril doit être immédiatement</span></div>
<div style="position:absolute;left:860.3px;top:398.34px;font-size:9.4px;line-height:9.4px;font-weight:700;color:#ececec;white-space:nowrap;font-family:'Liberation Sans', sans-serif;"><span id="t93" style="display:inline-block;word-spacing:0.404px;">remis à l’eau. <span style="font-size:0.62em">(Décret n°2019-352 du 23 avril</span></span></div>
<div style="position:absolute;left:860.3px;top:405.74px;font-size:9.4px;line-height:9.4px;font-weight:700;color:#ececec;white-space:nowrap;font-family:'Liberation Sans', sans-serif;"><span id="t94" style="display:inline-block;"><span style="font-size:0.62em">2019 - art. 3)</span></span></div>
<div style="position:absolute;left:853.0px;top:435.86px;font-size:8.2px;line-height:8.2px;font-weight:700;color:#1c1816;white-space:nowrap;font-family:'Liberation Sans', sans-serif;letter-spacing:0.2px;-webkit-text-stroke:0.35px #1c1816;"><span id="t95" style="display:inline-block;transform:scaleX(1.1026);transform-origin:left 0;">HEURES D’INTERDICTION</span></div>
<div style="position:absolute;left:974.8px;top:435.86px;font-size:8.2px;line-height:8.2px;font-weight:700;color:#1c1816;white-space:nowrap;font-family:'Liberation Sans', sans-serif;letter-spacing:0px;"><span id="t96" style="display:inline-block;">:</span></div>
<div style="position:absolute;left:980.3px;top:436.11px;font-size:7.9px;line-height:7.9px;font-weight:400;color:#221a16;white-space:nowrap;font-family:'Liberation Sans', sans-serif;letter-spacing:0px;-webkit-text-stroke:0.15px #221a16;"><span id="t97" style="display:inline-block;transform:scaleX(1.0595);transform-origin:left 0;">La pêche</span></div>
<div style="position:absolute;left:853.0px;top:444.81px;font-size:7.9px;line-height:7.9px;font-weight:400;color:#221a16;white-space:nowrap;font-family:'Liberation Sans', sans-serif;-webkit-text-stroke:0.15px #221a16;"><span id="t98" style="display:inline-block;word-spacing:4.237px;">ne peut s’exercer plus d’une demi-heure</span></div>
<div style="position:absolute;left:853.0px;top:453.61px;font-size:7.9px;line-height:7.9px;font-weight:400;color:#221a16;white-space:nowrap;font-family:'Liberation Sans', sans-serif;-webkit-text-stroke:0.15px #221a16;"><span id="t99" style="display:inline-block;word-spacing:1.662px;">avant le lever du soleil, ni plus d’une demi-</span></div>
<div style="position:absolute;left:853.0px;top:462.21px;font-size:7.9px;line-height:7.9px;font-weight:400;color:#221a16;white-space:nowrap;font-family:'Liberation Sans', sans-serif;-webkit-text-stroke:0.15px #221a16;"><span id="t100" style="display:inline-block;word-spacing:1.335px;">heure après son coucher à l’exception de la</span></div>
<div style="position:absolute;left:853.0px;top:470.61px;font-size:7.9px;line-height:7.9px;font-weight:400;color:#221a16;white-space:nowrap;font-family:'Liberation Sans', sans-serif;-webkit-text-stroke:0.15px #221a16;"><span id="t101" style="display:inline-block;word-spacing:0.619px;">pêche nocturne de la carpe sur une partie du</span></div>
<div style="position:absolute;left:853.0px;top:479.31px;font-size:7.9px;line-height:7.9px;font-weight:400;color:#221a16;white-space:nowrap;font-family:'Liberation Sans', sans-serif;-webkit-text-stroke:0.15px #221a16;"><span id="t102" style="display:inline-block;word-spacing:0.102px;">Domaine Public Fluvial (DPF) et dans certains</span></div>
<div style="position:absolute;left:853.0px;top:488.01px;font-size:7.9px;line-height:7.9px;font-weight:400;color:#221a16;white-space:nowrap;font-family:'Liberation Sans', sans-serif;-webkit-text-stroke:0.15px #221a16;"><span id="t103" style="display:inline-block;word-spacing:2.289px;">plans d’eau, dans les conditions fixées par</span></div>
<div style="position:absolute;left:853.0px;top:496.81px;font-size:7.9px;line-height:7.9px;font-weight:400;color:#221a16;white-space:nowrap;font-family:'Liberation Sans', sans-serif;-webkit-text-stroke:0.15px #221a16;"><span id="t104" style="display:inline-block;word-spacing:0.732px;">arrêté préfectoral à consulter sur le site de la</span></div>
<div style="position:absolute;left:853.0px;top:505.41px;font-size:7.9px;line-height:7.9px;font-weight:400;color:#221a16;white-space:nowrap;font-family:'Liberation Sans', sans-serif;-webkit-text-stroke:0.15px #221a16;"><span id="t105" style="display:inline-block;">Préfecture du Nord ou sur peche59.com</span></div>
<div style="position:absolute;left:853.0px;top:514.51px;font-size:7.9px;line-height:7.9px;font-weight:400;color:#221a16;white-space:nowrap;font-family:'Liberation Sans', sans-serif;-webkit-text-stroke:0.15px #221a16;"><span id="t106" style="display:inline-block;word-spacing:3.009px;">Toutefois, depuis une demi-heure après le</span></div>
<div style="position:absolute;left:853.0px;top:523.41px;font-size:7.9px;line-height:7.9px;font-weight:400;color:#221a16;white-space:nowrap;font-family:'Liberation Sans', sans-serif;-webkit-text-stroke:0.15px #221a16;"><span id="t107" style="display:inline-block;word-spacing:3.625px;">coucher du soleil jusqu’à une demi-heure</span></div>
<div style="position:absolute;left:853.0px;top:532.31px;font-size:7.9px;line-height:7.9px;font-weight:400;color:#221a16;white-space:nowrap;font-family:'Liberation Sans', sans-serif;-webkit-text-stroke:0.15px #221a16;"><span id="t108" style="display:inline-block;word-spacing:1.703px;">avant son lever, aucune carpe capturée par</span></div>
<div style="position:absolute;left:853.0px;top:541.51px;font-size:7.9px;line-height:7.9px;font-weight:400;color:#221a16;white-space:nowrap;font-family:'Liberation Sans', sans-serif;-webkit-text-stroke:0.15px #221a16;"><span id="t109" style="display:inline-block;word-spacing:0.020px;">les pêcheurs amateurs aux lignes ne peut être</span></div>
<div style="position:absolute;left:853.0px;top:551.91px;font-size:7.9px;line-height:7.9px;font-weight:400;color:#221a16;white-space:nowrap;font-family:'Liberation Sans', sans-serif;-webkit-text-stroke:0.15px #221a16;"><span id="t110" style="display:inline-block;">maintenue en captivité ou transportée.</span></div>
<div style="position:absolute;left:687.0px;top:576.91px;font-size:7.9px;line-height:7.9px;font-weight:700;color:#151515;white-space:nowrap;font-family:'Liberation Sans', sans-serif;letter-spacing:0.2px;-webkit-text-stroke:0.3px #151515;"><span id="t111" style="display:inline-block;transform:scaleX(1.1465);transform-origin:left 0;">PÊCHE SUR LE DOMAINE PUBLIC FLUVIAL (DPF)*</span></div>
<div style="position:absolute;left:919.4px;top:576.91px;font-size:7.9px;line-height:7.9px;font-weight:700;color:#151515;white-space:nowrap;font-family:'Liberation Sans', sans-serif;letter-spacing:0px;"><span id="t112" style="display:inline-block;">:</span></div>
<div style="position:absolute;left:925.0px;top:576.91px;font-size:7.9px;line-height:7.9px;font-weight:400;color:#1e1f22;white-space:nowrap;font-family:'Liberation Sans', sans-serif;-webkit-text-stroke:0.15px #1e1f22;"><span id="t113" style="display:inline-block;word-spacing:2.329px;">La pratique de la pêche</span></div>
<div style="position:absolute;left:686.9px;top:585.77px;font-size:7.9px;line-height:7.9px;font-weight:400;color:#1e1f22;white-space:nowrap;font-family:'Liberation Sans', sans-serif;-webkit-text-stroke:0.15px #1e1f22;"><span id="t114" style="display:inline-block;word-spacing:1.923px;">est interdite sur les emprises industrielles. La pêche de jour comme de nuit sur le DPF</span></div>
<div style="position:absolute;left:686.9px;top:594.63px;font-size:7.9px;line-height:7.9px;font-weight:400;color:#1e1f22;white-space:nowrap;font-family:'Liberation Sans', sans-serif;-webkit-text-stroke:0.15px #1e1f22;"><span id="t115" style="display:inline-block;word-spacing:1.784px;">est interdite sur les ponts, ponts-levis, pontons nautiques, passerelles, écluses, barrages,</span></div>
<div style="position:absolute;left:686.9px;top:603.49px;font-size:7.9px;line-height:7.9px;font-weight:400;color:#1e1f22;white-space:nowrap;font-family:'Liberation Sans', sans-serif;-webkit-text-stroke:0.15px #1e1f22;"><span id="t116" style="display:inline-block;word-spacing:4.325px;">ouvrages hydrauliques, quais de manutention, ports et haltes nautiques. La pêche</span></div>
<div style="position:absolute;left:686.9px;top:612.35px;font-size:7.9px;line-height:7.9px;font-weight:400;color:#1e1f22;white-space:nowrap;font-family:'Liberation Sans', sans-serif;-webkit-text-stroke:0.15px #1e1f22;"><span id="t117" style="display:inline-block;word-spacing:3.279px;">de jour comme de nuit est également interdite sur une distance de 50m en amont</span></div>
<div style="position:absolute;left:686.9px;top:621.21px;font-size:7.9px;line-height:7.9px;font-weight:400;color:#1e1f22;white-space:nowrap;font-family:'Liberation Sans', sans-serif;-webkit-text-stroke:0.15px #1e1f22;"><span id="t118" style="display:inline-block;word-spacing:2.621px;">et en aval des barrages et des écluses ainsi que dans les zones délimitées par une</span></div>
<div style="position:absolute;left:686.9px;top:630.07px;font-size:7.9px;line-height:7.9px;font-weight:400;color:#1e1f22;white-space:nowrap;font-family:'Liberation Sans', sans-serif;-webkit-text-stroke:0.15px #1e1f22;"><span id="t119" style="display:inline-block;word-spacing:3.375px;">barrière ou une clôture des gestionnaires des ouvrages précités. La pêche nocturne</span></div>
<div style="position:absolute;left:686.9px;top:638.93px;font-size:7.9px;line-height:7.9px;font-weight:400;color:#1e1f22;white-space:nowrap;font-family:'Liberation Sans', sans-serif;-webkit-text-stroke:0.15px #1e1f22;"><span id="t120" style="display:inline-block;word-spacing:3.752px;">de la carpe est interdite sur les lieux de déchargement, d’accostage et d’éclusage</span></div>
<div style="position:absolute;left:686.9px;top:647.79px;font-size:7.9px;line-height:7.9px;font-weight:400;color:#1e1f22;white-space:nowrap;font-family:'Liberation Sans', sans-serif;-webkit-text-stroke:0.15px #1e1f22;"><span id="t121" style="display:inline-block;word-spacing:3.666px;">des bateaux, ainsi que dans l’ensemble des bras morts et des bras de décharge.</span></div>
<div style="position:absolute;left:686.9px;top:656.65px;font-size:7.9px;line-height:7.9px;font-weight:400;color:#1e1f22;white-space:nowrap;font-family:'Liberation Sans', sans-serif;-webkit-text-stroke:0.15px #1e1f22;"><span id="t122" style="display:inline-block;word-spacing:2.875px;">L’utilisation de biwys sur les dépendances du DPF doit faire l’objet d’une autorisation</span></div>
<div style="position:absolute;left:686.9px;top:665.51px;font-size:7.9px;line-height:7.9px;font-weight:400;color:#1e1f22;white-space:nowrap;font-family:'Liberation Sans', sans-serif;-webkit-text-stroke:0.15px #1e1f22;"><span id="t123" style="display:inline-block;word-spacing:3.218px;">préalable délivrée par la direction territoriale des Voies Navigables de France (VNF).</span></div>
<div style="position:absolute;left:686.9px;top:674.37px;font-size:7.9px;line-height:7.9px;font-weight:400;color:#1e1f22;white-space:nowrap;font-family:'Liberation Sans', sans-serif;-webkit-text-stroke:0.15px #1e1f22;"><span id="t124" style="display:inline-block;">*pour les spécificités sur la MEL, voir l’arrêté prefectoral.</span></div>
<svg style="position:absolute;left:0;top:0" width="1024" height="726" viewBox="0 0 1024 726"><defs><linearGradient id="gpike" x1="0" y1="0" x2="0" y2="1"><stop offset="0" stop-color="#35432a"/><stop offset="0.3" stop-color="#5f7248"/><stop offset="0.6" stop-color="#8a9c6c"/><stop offset="0.8" stop-color="#c5cdb2"/><stop offset="1" stop-color="#e2e6d8"/></linearGradient><linearGradient id="gzan" x1="0" y1="0" x2="0" y2="1"><stop offset="0" stop-color="#3e3828"/><stop offset="0.25" stop-color="#766c54"/><stop offset="0.5" stop-color="#b0a68c"/><stop offset="0.7" stop-color="#dcdad0"/><stop offset="1" stop-color="#ececea"/></linearGradient><linearGradient id="gpf1" x1="0" y1="0" x2="0" y2="1"><stop offset="0" stop-color="#3a4530"/><stop offset="0.3" stop-color="#66704f"/><stop offset="0.42" stop-color="#b89088"/><stop offset="0.52" stop-color="#c89696"/><stop offset="0.62" stop-color="#aab4b8"/><stop offset="0.85" stop-color="#d4d9da"/><stop offset="1" stop-color="#e2e6e6"/></linearGradient><clipPath id="cpf1"><path d="M68,245.4 C76.00,241.83 85.60,240.3 100,240.3 C119.36,240.3 133.09,244.03 135.2,248.6 C133.09,253.76 119.36,257.2 100,257.2 C85.60,257.2 76.00,255.76 68,252.4 Z"/></clipPath><linearGradient id="gpf2" x1="0" y1="0" x2="0" y2="1"><stop offset="0" stop-color="#2a3428"/><stop offset="0.3" stop-color="#3e5244"/><stop offset="0.55" stop-color="#4f6a62"/><stop offset="0.72" stop-color="#7a6a48"/><stop offset="0.8" stop-color="#c8602e"/><stop offset="1" stop-color="#d86232"/></linearGradient><clipPath id="cpf2"><path d="M82.3,302.0 C87.97,300.60 94.78,300.0 105,300.0 C120.34,300.0 131.23,302.25 132.9,305.0 C131.23,307.76 120.34,309.6 105,309.6 C94.78,309.6 87.97,309.06 82.3,307.8 Z"/></clipPath><linearGradient id="gpf3" x1="0" y1="0" x2="0" y2="1"><stop offset="0" stop-color="#5a5232"/><stop offset="0.3" stop-color="#958e62"/><stop offset="0.55" stop-color="#c6c49c"/><stop offset="0.8" stop-color="#dde0b2"/><stop offset="1" stop-color="#e8ebc6"/></linearGradient><clipPath id="cpf3"><path d="M25.3,320.0 C32.73,317.76 41.63,316.8 55,316.8 C72.60,316.8 85.08,320.22 87.0,324.4 C85.08,328.90 72.60,331.9 55,331.9 C41.63,331.9 32.73,330.79 25.3,328.2 Z"/></clipPath><linearGradient id="gpf4" x1="0" y1="0" x2="0" y2="1"><stop offset="0" stop-color="#5a5a3c"/><stop offset="0.3" stop-color="#8c8c6a"/><stop offset="0.5" stop-color="#bfc2bb"/><stop offset="0.75" stop-color="#d6d8d8"/><stop offset="1" stop-color="#e4e6e6"/></linearGradient><clipPath id="cpf4"><path d="M122.0,322.0 C129.50,320.32 138.50,319.6 152,319.6 C169.77,319.6 182.36,323.56 184.3,328.4 C182.36,331.52 169.77,333.6 152,333.6 C138.50,333.6 129.50,332.52 122.0,330.0 Z"/></clipPath><linearGradient id="gcarp" x1="0" y1="0" x2="0" y2="1"><stop offset="0" stop-color="#5a4e2c"/><stop offset="0.3" stop-color="#7e7042"/><stop offset="0.6" stop-color="#a08e5e"/><stop offset="0.82" stop-color="#d0b490"/><stop offset="1" stop-color="#e8cfc0"/></linearGradient><linearGradient id="gpf5" x1="0" y1="0" x2="0" y2="1"><stop offset="0" stop-color="#382c20"/><stop offset="0.35" stop-color="#5c5242"/><stop offset="0.6" stop-color="#7a7562"/><stop offset="0.85" stop-color="#cbc3b0"/><stop offset="1" stop-color="#e2dacb"/></linearGradient><clipPath id="cpf5"><path d="M78.8,450.8 C85.35,448.84 93.21,448.0 105,448.0 C122.38,448.0 134.70,450.79 136.6,454.2 C134.70,456.48 122.38,458.0 105,458.0 C93.21,458.0 85.35,457.58 78.8,456.6 Z"/></clipPath><linearGradient id="gcr32" x1="0" y1="0" x2="0" y2="1"><stop offset="0" stop-color="#8c4530"/><stop offset="1" stop-color="#6e3322"/></linearGradient><linearGradient id="gcr95" x1="0" y1="0" x2="0" y2="1"><stop offset="0" stop-color="#5f8482"/><stop offset="1" stop-color="#48624c"/></linearGradient><linearGradient id="gcr156" x1="0" y1="0" x2="0" y2="1"><stop offset="0" stop-color="#3f6656"/><stop offset="1" stop-color="#3a3424"/></linearGradient></defs><g transform=""><path d="M28,141.5 L31,132.3 C36,132 41,135 44.5,138.8 Z" fill="#7f8a58" /><path d="M25,143.3 L13.5,139.6 L16.5,146.5 Z" fill="#8f9a80" /><path d="M25,147.8 L16.5,146.5 L13.5,155.2 Z" fill="#8a5a38" /><path d="M30.5,149 L34.5,155.6 L41,155.2 L39,149.6 Z" fill="#9a6238" /><path d="M53,150.3 L52.8,155.6 L59.2,155.6 L60.3,150 Z" fill="#b0703c" /><path d="M77,149.8 L75.6,155.6 L81,155 L83.5,149.4 Z" fill="#a8683a" /><path d="M24,143.3 C30,141.5 36,138.6 46,137.6 C60,136.6 75,137 85,139.3 C92,141 99,143.3 104.8,145.6 C100,147 93,148.4 85,149.6 C70,151.1 50,151.2 36,149.8 C30,149.2 26,148.6 24,148 Z" fill="url(#gpike)" /><ellipse cx="45.9" cy="143.9" rx="0.9" ry="0.5" fill="#bccaa0" opacity="0.65"/><ellipse cx="52.5" cy="144.3" rx="0.9" ry="0.5" fill="#bccaa0" opacity="0.65"/><ellipse cx="65.3" cy="140.0" rx="0.9" ry="0.5" fill="#bccaa0" opacity="0.65"/><ellipse cx="34.7" cy="146.2" rx="0.9" ry="0.5" fill="#bccaa0" opacity="0.65"/><ellipse cx="47.0" cy="141.4" rx="0.9" ry="0.5" fill="#bccaa0" opacity="0.65"/><ellipse cx="83.8" cy="143.3" rx="0.9" ry="0.5" fill="#bccaa0" opacity="0.65"/><ellipse cx="75.8" cy="143.3" rx="0.9" ry="0.5" fill="#bccaa0" opacity="0.65"/><ellipse cx="66.0" cy="140.7" rx="0.9" ry="0.5" fill="#bccaa0" opacity="0.65"/><ellipse cx="65.7" cy="146.4" rx="0.9" ry="0.5" fill="#bccaa0" opacity="0.65"/><ellipse cx="60.2" cy="145.4" rx="0.9" ry="0.5" fill="#bccaa0" opacity="0.65"/><ellipse cx="67.6" cy="140.0" rx="0.9" ry="0.5" fill="#bccaa0" opacity="0.65"/><ellipse cx="71.9" cy="144.2" rx="0.9" ry="0.5" fill="#bccaa0" opacity="0.65"/><ellipse cx="49.1" cy="139.7" rx="0.9" ry="0.5" fill="#bccaa0" opacity="0.65"/><ellipse cx="77.3" cy="143.3" rx="0.9" ry="0.5" fill="#bccaa0" opacity="0.65"/><ellipse cx="69.9" cy="146.5" rx="0.9" ry="0.5" fill="#bccaa0" opacity="0.65"/><ellipse cx="69.7" cy="146.9" rx="0.9" ry="0.5" fill="#bccaa0" opacity="0.65"/><ellipse cx="53.7" cy="145.9" rx="0.9" ry="0.5" fill="#bccaa0" opacity="0.65"/><ellipse cx="56.2" cy="147.0" rx="0.9" ry="0.5" fill="#bccaa0" opacity="0.65"/><ellipse cx="77.9" cy="140.3" rx="0.9" ry="0.5" fill="#bccaa0" opacity="0.65"/><ellipse cx="40.8" cy="141.2" rx="0.9" ry="0.5" fill="#bccaa0" opacity="0.65"/><ellipse cx="82.3" cy="143.0" rx="0.9" ry="0.5" fill="#bccaa0" opacity="0.65"/><ellipse cx="65.3" cy="141.9" rx="0.9" ry="0.5" fill="#bccaa0" opacity="0.65"/><ellipse cx="59.4" cy="142.6" rx="0.9" ry="0.5" fill="#bccaa0" opacity="0.65"/><ellipse cx="51.5" cy="144.2" rx="0.9" ry="0.5" fill="#bccaa0" opacity="0.65"/><ellipse cx="63.2" cy="146.7" rx="0.9" ry="0.5" fill="#bccaa0" opacity="0.65"/><ellipse cx="68.1" cy="146.9" rx="0.9" ry="0.5" fill="#bccaa0" opacity="0.65"/><ellipse cx="76.8" cy="147.4" rx="0.9" ry="0.5" fill="#bccaa0" opacity="0.65"/><ellipse cx="67.6" cy="140.8" rx="0.9" ry="0.5" fill="#bccaa0" opacity="0.65"/><ellipse cx="77.0" cy="147.2" rx="0.9" ry="0.5" fill="#bccaa0" opacity="0.65"/><ellipse cx="79.2" cy="144.1" rx="0.9" ry="0.5" fill="#bccaa0" opacity="0.65"/><ellipse cx="69.7" cy="141.2" rx="0.9" ry="0.5" fill="#bccaa0" opacity="0.65"/><ellipse cx="75.6" cy="144.1" rx="0.9" ry="0.5" fill="#bccaa0" opacity="0.65"/><ellipse cx="48.2" cy="140.0" rx="0.9" ry="0.5" fill="#bccaa0" opacity="0.65"/><ellipse cx="76.7" cy="147.4" rx="0.9" ry="0.5" fill="#bccaa0" opacity="0.65"/><ellipse cx="38.4" cy="145.9" rx="0.9" ry="0.5" fill="#bccaa0" opacity="0.65"/><ellipse cx="54.5" cy="140.7" rx="0.9" ry="0.5" fill="#bccaa0" opacity="0.65"/><ellipse cx="48.7" cy="145.7" rx="0.9" ry="0.5" fill="#bccaa0" opacity="0.65"/><ellipse cx="77.6" cy="139.9" rx="0.9" ry="0.5" fill="#bccaa0" opacity="0.65"/><ellipse cx="64.7" cy="139.9" rx="0.9" ry="0.5" fill="#bccaa0" opacity="0.65"/><ellipse cx="69.9" cy="142.1" rx="0.9" ry="0.5" fill="#bccaa0" opacity="0.65"/><ellipse cx="78.0" cy="147.3" rx="0.9" ry="0.5" fill="#bccaa0" opacity="0.65"/><ellipse cx="59.3" cy="147.5" rx="0.9" ry="0.5" fill="#bccaa0" opacity="0.65"/><ellipse cx="49.5" cy="140.1" rx="0.9" ry="0.5" fill="#bccaa0" opacity="0.65"/><ellipse cx="64.0" cy="139.8" rx="0.9" ry="0.5" fill="#bccaa0" opacity="0.65"/><ellipse cx="43.9" cy="142.8" rx="0.9" ry="0.5" fill="#bccaa0" opacity="0.65"/><ellipse cx="64.5" cy="140.7" rx="0.9" ry="0.5" fill="#bccaa0" opacity="0.65"/><ellipse cx="36.1" cy="146.4" rx="0.9" ry="0.5" fill="#bccaa0" opacity="0.65"/><ellipse cx="49.7" cy="147.2" rx="0.9" ry="0.5" fill="#bccaa0" opacity="0.65"/><ellipse cx="78.8" cy="142.5" rx="0.9" ry="0.5" fill="#bccaa0" opacity="0.65"/><ellipse cx="57.0" cy="143.7" rx="0.9" ry="0.5" fill="#bccaa0" opacity="0.65"/><ellipse cx="66.2" cy="144.3" rx="0.9" ry="0.5" fill="#bccaa0" opacity="0.65"/><ellipse cx="62.0" cy="144.5" rx="0.9" ry="0.5" fill="#bccaa0" opacity="0.65"/><ellipse cx="81.0" cy="143.6" rx="0.9" ry="0.5" fill="#bccaa0" opacity="0.65"/><ellipse cx="55.6" cy="145.3" rx="0.9" ry="0.5" fill="#bccaa0" opacity="0.65"/><ellipse cx="45.9" cy="141.9" rx="0.9" ry="0.5" fill="#bccaa0" opacity="0.65"/><ellipse cx="82.9" cy="143.7" rx="0.9" ry="0.5" fill="#bccaa0" opacity="0.65"/><ellipse cx="61.4" cy="139.6" rx="0.9" ry="0.5" fill="#bccaa0" opacity="0.65"/><ellipse cx="54.8" cy="144.1" rx="0.9" ry="0.5" fill="#bccaa0" opacity="0.65"/><ellipse cx="35.0" cy="144.4" rx="0.9" ry="0.5" fill="#bccaa0" opacity="0.65"/><ellipse cx="65.6" cy="140.0" rx="0.9" ry="0.5" fill="#bccaa0" opacity="0.65"/><path d="M86,144.5 C92,144.3 98,144.6 104.8,145.6 C99,146.8 92,147.6 86,147.8 Z" fill="#d6ddc6" /></g><path d="M139,143 C141,139.5 146,137.6 150,137.8 C152,138.5 153.5,140.5 154.5,142 Z" fill="#9b8a6a" /><path d="M157,141.5 C158,137.5 163,135 168,135.2 C170.5,136 172.5,138.5 173.5,141.5 Z" fill="#9a8a68" /><path d="M131.5,145 L121.2,141.2 L124.2,148.3 L121.5,155.8 L131.5,151.3 Z" fill="#b8a888" /><path d="M143,153 L144,157 L150.5,157.2 L151.5,153 Z" fill="#c8c0a8" /><path d="M164.5,153 L164.6,160 L168.5,159.5 L172,152.5 Z" fill="#c0b89c" /><path d="M130.5,145.2 C138,143.4 146,142.2 158,141.6 C170,141.2 180,143.5 186,145.8 C189,147 190.5,148 191.2,148.8 C189,150.5 184,152.3 178,153.2 C165,154.5 150,154.3 140,153.2 C135,152.6 132,152 130.5,151.5 Z" fill="url(#gzan)" /><path d="M137,143.1 l1.0,4.2" stroke="#4a4230" stroke-width="2" opacity="0.35"/><path d="M143,142.9 l1.0,4.2" stroke="#4a4230" stroke-width="2" opacity="0.35"/><path d="M149,142.8 l1.0,4.2" stroke="#4a4230" stroke-width="2" opacity="0.35"/><path d="M155,142.7 l1.0,4.2" stroke="#4a4230" stroke-width="2" opacity="0.35"/><path d="M161,142.6 l1.0,4.2" stroke="#4a4230" stroke-width="2" opacity="0.35"/><path d="M167,142.5 l1.0,4.2" stroke="#4a4230" stroke-width="2" opacity="0.35"/><path d="M173,142.3 l1.0,4.2" stroke="#4a4230" stroke-width="2" opacity="0.35"/><path d="M180,144.5 C178,147 178.5,150.5 180.5,152.5" stroke="#5a5040" stroke-width="0.7" fill="none" opacity="0.7"/><circle cx="185.5" cy="147" r="1" fill="#d8d0b8"/><circle cx="185.5" cy="147" r="0.5" fill="#1a1a1a"/><path d="M93.2,241.4 L96.8,234.2 C100.5,234.5 103.8,237 106.2,240.8 Z" fill="#66704e" /><path d="M77.5,244.6 L78.5,242.6 L81.5,243.6 Z" fill="#5a6044" /><path d="M76.5,255.5 L75.5,259.8 L81.5,259.2 L83.5,255.5 Z" fill="#7a5646" /><path d="M96,256.5 L94.8,261.6 L100.5,261.2 L103,256.2 Z" fill="#7c5a48" /><path d="M114,253.5 L111,257 L116.5,256.6 L119,253.2 Z" fill="#8a6050" /><path d="M69,245.70000000000002 C64.12,244.4 59.30,240.10 58.3,239.1 L60.80,248.90 L58.3,258.7 C59.30,257.70 64.12,253.4 69,252.1 Z" fill="#6e5e40" /><path d="M68,245.4 C76.00,241.83 85.60,240.3 100,240.3 C119.36,240.3 133.09,244.03 135.2,248.6 C133.09,253.76 119.36,257.2 100,257.2 C85.60,257.2 76.00,255.76 68,252.4 Z" fill="url(#gpf1)" /><g clip-path="url(#cpf1)"><circle cx="77.5" cy="249.8" r="0.45" fill="#2a2a20" opacity="0.5"/><circle cx="107.9" cy="243.8" r="0.45" fill="#2a2a20" opacity="0.5"/><circle cx="95.0" cy="245.8" r="0.45" fill="#2a2a20" opacity="0.5"/><circle cx="102.5" cy="249.2" r="0.45" fill="#2a2a20" opacity="0.5"/><circle cx="75.5" cy="241.6" r="0.45" fill="#2a2a20" opacity="0.5"/><circle cx="111.4" cy="245.6" r="0.45" fill="#2a2a20" opacity="0.5"/><circle cx="107.9" cy="241.3" r="0.45" fill="#2a2a20" opacity="0.5"/><circle cx="92.5" cy="248.5" r="0.45" fill="#2a2a20" opacity="0.5"/><circle cx="82.1" cy="250.7" r="0.45" fill="#2a2a20" opacity="0.5"/><circle cx="114.6" cy="241.6" r="0.45" fill="#2a2a20" opacity="0.5"/><circle cx="72.2" cy="246.7" r="0.45" fill="#2a2a20" opacity="0.5"/><circle cx="116.4" cy="245.1" r="0.45" fill="#2a2a20" opacity="0.5"/><circle cx="81.5" cy="245.5" r="0.45" fill="#2a2a20" opacity="0.5"/><circle cx="72.4" cy="243.5" r="0.45" fill="#2a2a20" opacity="0.5"/><circle cx="92.2" cy="246.3" r="0.45" fill="#2a2a20" opacity="0.5"/><circle cx="82.3" cy="243.6" r="0.45" fill="#2a2a20" opacity="0.5"/><circle cx="81.6" cy="245.9" r="0.45" fill="#2a2a20" opacity="0.5"/><circle cx="85.0" cy="241.5" r="0.45" fill="#2a2a20" opacity="0.5"/><circle cx="111.5" cy="246.9" r="0.45" fill="#2a2a20" opacity="0.5"/><circle cx="102.1" cy="243.2" r="0.45" fill="#2a2a20" opacity="0.5"/><circle cx="119.0" cy="249.9" r="0.45" fill="#2a2a20" opacity="0.5"/><circle cx="76.8" cy="244.6" r="0.45" fill="#2a2a20" opacity="0.5"/><circle cx="105.9" cy="248.4" r="0.45" fill="#2a2a20" opacity="0.5"/><circle cx="116.3" cy="245.5" r="0.45" fill="#2a2a20" opacity="0.5"/><circle cx="111.1" cy="248.0" r="0.45" fill="#2a2a20" opacity="0.5"/><path d="M116.19999999999999,238.3 C120.00,247.06 118.10,253.82 115.25,259.2 L137.2,259.2 L137.2,238.3 Z" fill="#8a7464" opacity="0.45"/><path d="M116.70,243.68 C120.95,247.91 119.05,254.66 115.82,257.2" stroke="#4a3a30" stroke-width="0.7" fill="none" opacity="0.8"/><circle cx="129.12" cy="245.69" r="1.2" fill="#d8d0c8"/><circle cx="129.12" cy="245.69" r="0.60" fill="#1a1a1a"/></g><path d="M100.8,300.8 L103.5,293.9 C107.5,294.2 110.5,297 112.2,300.4 Z" fill="#a06a28" /><path d="M88.5,308.5 L88.8,313.8 L94,313.2 L95.5,308.8 Z" fill="#d0552e" /><path d="M102.5,309.3 L102,314.8 L106.5,314.4 L108,309.3 Z" fill="#cc5530" /><path d="M117.5,308.6 L116.8,312.8 L120.6,312.4 L122.5,308 Z" fill="#c8522e" /><path d="M83.3,302.3 C79.62,301.0 76.60,297.78 75.6,296.78 L78.10,304.90 L75.6,313.02000000000004 C76.60,312.02 79.62,308.8 83.3,307.5 Z" fill="#9a4a2e" /><path d="M82.3,302.0 C87.97,300.60 94.78,300.0 105,300.0 C120.34,300.0 131.23,302.25 132.9,305.0 C131.23,307.76 120.34,309.6 105,309.6 C94.78,309.6 87.97,309.06 82.3,307.8 Z" fill="url(#gpf2)" /><g clip-path="url(#cpf2)"><circle cx="118.8" cy="306.0" r="0.45" fill="#8ab0a0" opacity="0.6"/><circle cx="87.3" cy="301.4" r="0.45" fill="#8ab0a0" opacity="0.6"/><circle cx="114.6" cy="304.9" r="0.45" fill="#8ab0a0" opacity="0.6"/><circle cx="108.8" cy="302.6" r="0.45" fill="#8ab0a0" opacity="0.6"/><circle cx="106.5" cy="304.2" r="0.45" fill="#8ab0a0" opacity="0.6"/><circle cx="105.7" cy="301.8" r="0.45" fill="#8ab0a0" opacity="0.6"/><circle cx="100.4" cy="303.1" r="0.45" fill="#8ab0a0" opacity="0.6"/><circle cx="110.6" cy="306.2" r="0.45" fill="#8ab0a0" opacity="0.6"/><circle cx="118.6" cy="303.9" r="0.45" fill="#8ab0a0" opacity="0.6"/><circle cx="100.9" cy="302.4" r="0.45" fill="#8ab0a0" opacity="0.6"/><circle cx="86.6" cy="301.1" r="0.45" fill="#8ab0a0" opacity="0.6"/><circle cx="101.6" cy="302.7" r="0.45" fill="#8ab0a0" opacity="0.6"/><circle cx="98.6" cy="305.7" r="0.45" fill="#8ab0a0" opacity="0.6"/><circle cx="103.7" cy="303.9" r="0.45" fill="#8ab0a0" opacity="0.6"/><circle cx="93.6" cy="301.1" r="0.45" fill="#8ab0a0" opacity="0.6"/><circle cx="96.7" cy="301.7" r="0.45" fill="#8ab0a0" opacity="0.6"/><circle cx="103.2" cy="306.2" r="0.45" fill="#8ab0a0" opacity="0.6"/><circle cx="108.9" cy="302.0" r="0.45" fill="#8ab0a0" opacity="0.6"/><circle cx="116.6" cy="305.2" r="0.45" fill="#8ab0a0" opacity="0.6"/><circle cx="111.0" cy="305.8" r="0.45" fill="#8ab0a0" opacity="0.6"/><circle cx="112.0" cy="305.1" r="0.45" fill="#8ab0a0" opacity="0.6"/><circle cx="97.7" cy="306.1" r="0.45" fill="#8ab0a0" opacity="0.6"/><circle cx="119.0" cy="301.8" r="0.45" fill="#8ab0a0" opacity="0.6"/><circle cx="111.7" cy="304.7" r="0.45" fill="#8ab0a0" opacity="0.6"/><circle cx="101.5" cy="303.8" r="0.45" fill="#8ab0a0" opacity="0.6"/><circle cx="102.5" cy="305.8" r="0.45" fill="#8ab0a0" opacity="0.6"/><circle cx="102.9" cy="305.4" r="0.45" fill="#8ab0a0" opacity="0.6"/><circle cx="97.7" cy="305.6" r="0.45" fill="#8ab0a0" opacity="0.6"/><circle cx="116.8" cy="303.4" r="0.45" fill="#8ab0a0" opacity="0.6"/><circle cx="105.2" cy="305.8" r="0.45" fill="#8ab0a0" opacity="0.6"/><path d="M119.9,298.0 C122.50,303.84 121.20,307.68 119.25,311.6 L134.9,311.6 L134.9,298.0 Z" fill="#4a5a48" opacity="0.6"/><path d="M120.40,301.92 C123.15,304.32 121.85,308.16 119.64,309.6" stroke="#2a2a20" stroke-width="0.7" fill="none" opacity="0.8"/><circle cx="128.74" cy="303.25" r="1.0" fill="#c8c8b0"/><circle cx="128.74" cy="303.25" r="0.50" fill="#1a1a1a"/></g><path d="M49.3,318 L52.8,310.7 C56,311 58.8,313.5 60.6,317.4 Z" fill="#a88a58" /><path d="M31.5,322 L32.5,319.5 L35.5,320.5 Z" fill="#8a6a40" /><path d="M32.5,330 L33.5,334.5 L40.5,334 L41.5,330.3 Z" fill="#9a6a48" /><path d="M51,331 L50.3,336.5 L56.5,335.8 L58,331 Z" fill="#b8902e" /><path d="M66.7,326.2 L66.5,329.6 L73.7,329.2 L73,325.8 Z" fill="#7a4a30" /><path d="M26.3,320.3 C21.70,319.0 17.30,313.62 16.3,312.62 L18.80,324.10 L16.3,335.58 C17.30,334.58 21.70,329.2 26.3,327.9 Z" fill="#8a5a38" /><path d="M25.3,320.0 C32.73,317.76 41.63,316.8 55,316.8 C72.60,316.8 85.08,320.22 87.0,324.4 C85.08,328.90 72.60,331.9 55,331.9 C41.63,331.9 32.73,330.79 25.3,328.2 Z" fill="url(#gpf3)" /><g clip-path="url(#cpf3)"><circle cx="55.9" cy="324.3" r="0.55" fill="#7a4a30" opacity="0.6"/><circle cx="63.5" cy="326.1" r="0.55" fill="#7a4a30" opacity="0.6"/><circle cx="61.1" cy="325.9" r="0.55" fill="#7a4a30" opacity="0.6"/><circle cx="29.6" cy="321.9" r="0.55" fill="#7a4a30" opacity="0.6"/><circle cx="70.1" cy="323.5" r="0.55" fill="#7a4a30" opacity="0.6"/><circle cx="68.2" cy="318.8" r="0.55" fill="#7a4a30" opacity="0.6"/><circle cx="49.1" cy="320.0" r="0.55" fill="#7a4a30" opacity="0.6"/><circle cx="52.4" cy="322.9" r="0.55" fill="#7a4a30" opacity="0.6"/><circle cx="28.9" cy="319.7" r="0.55" fill="#7a4a30" opacity="0.6"/><circle cx="40.7" cy="325.9" r="0.55" fill="#7a4a30" opacity="0.6"/><circle cx="62.2" cy="319.2" r="0.55" fill="#7a4a30" opacity="0.6"/><circle cx="63.6" cy="319.0" r="0.55" fill="#7a4a30" opacity="0.6"/><circle cx="55.7" cy="318.9" r="0.55" fill="#7a4a30" opacity="0.6"/><circle cx="28.4" cy="325.5" r="0.55" fill="#7a4a30" opacity="0.6"/><circle cx="37.6" cy="319.7" r="0.55" fill="#7a4a30" opacity="0.6"/><circle cx="71.8" cy="325.5" r="0.55" fill="#7a4a30" opacity="0.6"/><circle cx="41.1" cy="326.3" r="0.55" fill="#7a4a30" opacity="0.6"/><circle cx="52.2" cy="323.8" r="0.55" fill="#7a4a30" opacity="0.6"/><circle cx="37.4" cy="326.1" r="0.55" fill="#7a4a30" opacity="0.6"/><circle cx="58.9" cy="326.3" r="0.55" fill="#7a4a30" opacity="0.6"/><circle cx="67.9" cy="320.4" r="0.55" fill="#7a4a30" opacity="0.6"/><circle cx="44.3" cy="319.3" r="0.55" fill="#7a4a30" opacity="0.6"/><circle cx="34.8" cy="318.4" r="0.55" fill="#7a4a30" opacity="0.6"/><circle cx="41.7" cy="323.1" r="0.55" fill="#7a4a30" opacity="0.6"/><circle cx="28.4" cy="323.8" r="0.55" fill="#7a4a30" opacity="0.6"/><circle cx="43.3" cy="320.5" r="0.55" fill="#7a4a30" opacity="0.6"/><circle cx="64.6" cy="322.0" r="0.55" fill="#7a4a30" opacity="0.6"/><circle cx="42.3" cy="322.0" r="0.55" fill="#7a4a30" opacity="0.6"/><circle cx="59.5" cy="318.3" r="0.55" fill="#7a4a30" opacity="0.6"/><circle cx="71.5" cy="318.0" r="0.55" fill="#7a4a30" opacity="0.6"/><circle cx="61.5" cy="325.2" r="0.55" fill="#7a4a30" opacity="0.6"/><circle cx="29.1" cy="324.7" r="0.55" fill="#7a4a30" opacity="0.6"/><circle cx="44.5" cy="322.9" r="0.55" fill="#7a4a30" opacity="0.6"/><circle cx="28.7" cy="318.2" r="0.55" fill="#7a4a30" opacity="0.6"/><circle cx="36.3" cy="326.2" r="0.55" fill="#7a4a30" opacity="0.6"/><circle cx="37.0" cy="324.5" r="0.55" fill="#7a4a30" opacity="0.6"/><circle cx="69.5" cy="326.1" r="0.55" fill="#7a4a30" opacity="0.6"/><circle cx="43.6" cy="320.9" r="0.55" fill="#7a4a30" opacity="0.6"/><circle cx="51.5" cy="324.6" r="0.55" fill="#7a4a30" opacity="0.6"/><circle cx="33.1" cy="324.4" r="0.55" fill="#7a4a30" opacity="0.6"/><circle cx="63.6" cy="325.4" r="0.55" fill="#7a4a30" opacity="0.6"/><circle cx="29.9" cy="326.1" r="0.55" fill="#7a4a30" opacity="0.6"/><circle cx="32.3" cy="320.8" r="0.55" fill="#7a4a30" opacity="0.6"/><circle cx="55.4" cy="325.9" r="0.55" fill="#7a4a30" opacity="0.6"/><circle cx="43.4" cy="325.9" r="0.55" fill="#7a4a30" opacity="0.6"/><path d="M72.0,314.8 C75.00,322.84 73.50,328.88 71.25,333.9 L89.0,333.9 L89.0,314.8 Z" fill="#8a8058" opacity="0.45"/><path d="M72.50,319.82 C75.75,323.59 74.25,329.63 71.70,331.9" stroke="#5a4a30" stroke-width="0.7" fill="none" opacity="0.8"/><circle cx="82.20" cy="321.74" r="1.2" fill="#e0d8b0"/><circle cx="82.20" cy="321.74" r="0.60" fill="#1a1a1a"/><path d="M73,323 C77,322 81,323.5 84,325.5 C81,328 77,329.5 73.5,329 Z" fill="#e8e0b8" opacity="0.7"/></g><path d="M146.8,320.5 L150.3,314.3 C154,314.6 156.6,317 158.2,320.2 Z" fill="#8c8a3e" /><path d="M128.5,324 L129.5,321.5 L132.5,322.5 Z" fill="#6a6a40" /><path d="M129.5,330.8 L129.5,335.4 L137.2,335 L138.5,331 Z" fill="#a4a4c4" /><path d="M150,333 L149,336.5 L155,336.2 L157,332.8 Z" fill="#c8c8d4" /><path d="M168.5,330 L167,333.5 L173.5,333 L175,329.8 Z" fill="#8a8a8a" /><path d="M123.0,322.3 C118.40,321.0 114.00,315.80 113.0,314.8 L115.50,326.00 L113.0,337.2 C114.00,336.20 118.40,331.0 123.0,329.7 Z" fill="#7e6040" /><path d="M122.0,322.0 C129.50,320.32 138.50,319.6 152,319.6 C169.77,319.6 182.36,323.56 184.3,328.4 C182.36,331.52 169.77,333.6 152,333.6 C138.50,333.6 129.50,332.52 122.0,330.0 Z" fill="url(#gpf4)" /><g clip-path="url(#cpf4)"><circle cx="139.5" cy="321.8" r="0.55" fill="#3a3a2a" opacity="0.7"/><circle cx="154.1" cy="321.2" r="0.55" fill="#3a3a2a" opacity="0.7"/><circle cx="149.0" cy="323.6" r="0.55" fill="#3a3a2a" opacity="0.7"/><circle cx="127.6" cy="324.7" r="0.55" fill="#3a3a2a" opacity="0.7"/><circle cx="126.7" cy="324.1" r="0.55" fill="#3a3a2a" opacity="0.7"/><circle cx="128.1" cy="321.3" r="0.55" fill="#3a3a2a" opacity="0.7"/><circle cx="144.0" cy="327.3" r="0.55" fill="#3a3a2a" opacity="0.7"/><circle cx="130.5" cy="322.4" r="0.55" fill="#3a3a2a" opacity="0.7"/><circle cx="153.1" cy="328.3" r="0.55" fill="#3a3a2a" opacity="0.7"/><circle cx="150.8" cy="323.8" r="0.55" fill="#3a3a2a" opacity="0.7"/><circle cx="168.7" cy="321.0" r="0.55" fill="#3a3a2a" opacity="0.7"/><circle cx="163.4" cy="322.9" r="0.55" fill="#3a3a2a" opacity="0.7"/><circle cx="131.5" cy="321.6" r="0.55" fill="#3a3a2a" opacity="0.7"/><circle cx="138.8" cy="327.2" r="0.55" fill="#3a3a2a" opacity="0.7"/><circle cx="133.1" cy="325.3" r="0.55" fill="#3a3a2a" opacity="0.7"/><circle cx="153.6" cy="323.6" r="0.55" fill="#3a3a2a" opacity="0.7"/><circle cx="149.5" cy="321.1" r="0.55" fill="#3a3a2a" opacity="0.7"/><circle cx="127.7" cy="322.3" r="0.55" fill="#3a3a2a" opacity="0.7"/><circle cx="155.5" cy="324.1" r="0.55" fill="#3a3a2a" opacity="0.7"/><circle cx="139.1" cy="325.3" r="0.55" fill="#3a3a2a" opacity="0.7"/><circle cx="145.3" cy="323.0" r="0.55" fill="#3a3a2a" opacity="0.7"/><circle cx="160.6" cy="326.3" r="0.55" fill="#3a3a2a" opacity="0.7"/><path d="M168.3,317.6 C171.50,325.20 169.90,330.80 167.50,335.6 L186.3,335.6 L186.3,317.6 Z" fill="#6a6448" opacity="0.55"/><path d="M168.80,322.40 C172.30,325.90 170.70,331.50 167.98,333.6" stroke="#3a3428" stroke-width="0.7" fill="none" opacity="0.8"/><circle cx="179.18" cy="325.32" r="1.2" fill="#d8d4c0"/><circle cx="179.18" cy="325.32" r="0.60" fill="#1a1a1a"/></g><path d="M77.2,391 C72,389 67,387.5 63.6,386.8 C66,389.5 68.5,392 70.5,394.5 Z" fill="#6a6040" /><path d="M77.2,395.5 L70.5,394.5 C68,398 66,401.5 64,404.4 C70,403.5 74,400.5 77.2,398.5 Z" fill="#9a4420" /><path d="M82,399.2 L81.5,403.6 L88,403 L89,399.5 Z" fill="#c8683a" /><path d="M97.8,400 L97,405.2 L103.5,404.4 L104.8,400 Z" fill="#c86a3a" /><path d="M80.4,388.6 C86,383 94,376 99.6,374.8 C103,375.5 105.5,377.5 106.5,380 C113,381 120,383.5 126,386.8 C130,389 133,390.5 133.7,391.6 C132,393.5 129,395.5 124,397.5 C115,400.5 105,401.2 95,400.8 C88,400.4 82,399 77.2,397.8 C77.5,395 77.5,392.5 77.2,390.5 Z" fill="url(#gcarp)" /><path d="M97.7,387.9 q1.2,-1 2.4,0" stroke="#5a4a26" stroke-width="0.45" fill="none" opacity="0.6"/><path d="M86.7,394.3 q1.2,-1 2.4,0" stroke="#5a4a26" stroke-width="0.45" fill="none" opacity="0.6"/><path d="M82.2,389.5 q1.2,-1 2.4,0" stroke="#5a4a26" stroke-width="0.45" fill="none" opacity="0.6"/><path d="M112.5,384.1 q1.2,-1 2.4,0" stroke="#5a4a26" stroke-width="0.45" fill="none" opacity="0.6"/><path d="M100.8,391.0 q1.2,-1 2.4,0" stroke="#5a4a26" stroke-width="0.45" fill="none" opacity="0.6"/><path d="M83.4,387.9 q1.2,-1 2.4,0" stroke="#5a4a26" stroke-width="0.45" fill="none" opacity="0.6"/><path d="M105.9,388.9 q1.2,-1 2.4,0" stroke="#5a4a26" stroke-width="0.45" fill="none" opacity="0.6"/><path d="M106.7,385.0 q1.2,-1 2.4,0" stroke="#5a4a26" stroke-width="0.45" fill="none" opacity="0.6"/><path d="M90.1,384.4 q1.2,-1 2.4,0" stroke="#5a4a26" stroke-width="0.45" fill="none" opacity="0.6"/><path d="M99.2,395.0 q1.2,-1 2.4,0" stroke="#5a4a26" stroke-width="0.45" fill="none" opacity="0.6"/><path d="M102.1,393.1 q1.2,-1 2.4,0" stroke="#5a4a26" stroke-width="0.45" fill="none" opacity="0.6"/><path d="M95.0,392.7 q1.2,-1 2.4,0" stroke="#5a4a26" stroke-width="0.45" fill="none" opacity="0.6"/><path d="M85.5,386.8 q1.2,-1 2.4,0" stroke="#5a4a26" stroke-width="0.45" fill="none" opacity="0.6"/><path d="M104.9,392.4 q1.2,-1 2.4,0" stroke="#5a4a26" stroke-width="0.45" fill="none" opacity="0.6"/><path d="M96.3,384.1 q1.2,-1 2.4,0" stroke="#5a4a26" stroke-width="0.45" fill="none" opacity="0.6"/><path d="M91.1,385.7 q1.2,-1 2.4,0" stroke="#5a4a26" stroke-width="0.45" fill="none" opacity="0.6"/><path d="M91.6,393.5 q1.2,-1 2.4,0" stroke="#5a4a26" stroke-width="0.45" fill="none" opacity="0.6"/><path d="M88.8,394.5 q1.2,-1 2.4,0" stroke="#5a4a26" stroke-width="0.45" fill="none" opacity="0.6"/><path d="M111.9,383.7 q1.2,-1 2.4,0" stroke="#5a4a26" stroke-width="0.45" fill="none" opacity="0.6"/><path d="M94.9,389.4 q1.2,-1 2.4,0" stroke="#5a4a26" stroke-width="0.45" fill="none" opacity="0.6"/><path d="M82.8,388.5 q1.2,-1 2.4,0" stroke="#5a4a26" stroke-width="0.45" fill="none" opacity="0.6"/><path d="M112.8,384.5 q1.2,-1 2.4,0" stroke="#5a4a26" stroke-width="0.45" fill="none" opacity="0.6"/><path d="M102.3,384.6 q1.2,-1 2.4,0" stroke="#5a4a26" stroke-width="0.45" fill="none" opacity="0.6"/><path d="M101.7,394.6 q1.2,-1 2.4,0" stroke="#5a4a26" stroke-width="0.45" fill="none" opacity="0.6"/><path d="M88.9,383.1 q1.2,-1 2.4,0" stroke="#5a4a26" stroke-width="0.45" fill="none" opacity="0.6"/><path d="M84.8,390.0 q1.2,-1 2.4,0" stroke="#5a4a26" stroke-width="0.45" fill="none" opacity="0.6"/><path d="M82.6,384.1 q1.2,-1 2.4,0" stroke="#5a4a26" stroke-width="0.45" fill="none" opacity="0.6"/><path d="M98.9,395.0 q1.2,-1 2.4,0" stroke="#5a4a26" stroke-width="0.45" fill="none" opacity="0.6"/><path d="M96.3,388.2 q1.2,-1 2.4,0" stroke="#5a4a26" stroke-width="0.45" fill="none" opacity="0.6"/><path d="M103.7,384.2 q1.2,-1 2.4,0" stroke="#5a4a26" stroke-width="0.45" fill="none" opacity="0.6"/><path d="M101.7,385.2 q1.2,-1 2.4,0" stroke="#5a4a26" stroke-width="0.45" fill="none" opacity="0.6"/><path d="M102.7,395.5 q1.2,-1 2.4,0" stroke="#5a4a26" stroke-width="0.45" fill="none" opacity="0.6"/><path d="M83.8,390.2 q1.2,-1 2.4,0" stroke="#5a4a26" stroke-width="0.45" fill="none" opacity="0.6"/><path d="M102.6,384.9 q1.2,-1 2.4,0" stroke="#5a4a26" stroke-width="0.45" fill="none" opacity="0.6"/><path d="M91.1,395.9 q1.2,-1 2.4,0" stroke="#5a4a26" stroke-width="0.45" fill="none" opacity="0.6"/><path d="M115.9,384.6 q1.2,-1 2.4,0" stroke="#5a4a26" stroke-width="0.45" fill="none" opacity="0.6"/><path d="M106.0,395.4 q1.2,-1 2.4,0" stroke="#5a4a26" stroke-width="0.45" fill="none" opacity="0.6"/><path d="M90.1,390.9 q1.2,-1 2.4,0" stroke="#5a4a26" stroke-width="0.45" fill="none" opacity="0.6"/><path d="M83.5,387.8 q1.2,-1 2.4,0" stroke="#5a4a26" stroke-width="0.45" fill="none" opacity="0.6"/><path d="M104.9,390.7 q1.2,-1 2.4,0" stroke="#5a4a26" stroke-width="0.45" fill="none" opacity="0.6"/><path d="M118.5,384.3 C124,385.2 130,388.3 133.7,391.6 C131,394 127,396.3 121.5,397.6 C118.8,394 117.8,388.5 118.5,384.3 Z" fill="#8a7448" opacity="0.85"/><path d="M118.5,384.6 C116.8,388.5 117,394 119.5,398" fill="none" stroke="#4a3a20" stroke-width="0.9" opacity="0.75"/><circle cx="127" cy="388.8" r="1.1" fill="#d8d0b8"/><circle cx="127" cy="388.8" r="0.55" fill="#1a1a1a"/><path d="M113,396 C111,399 111.5,401 113.5,401.5 C115.5,400.5 116,398.5 115,396 Z" fill="#b86a58" opacity="0.6"/><path d="M93.5,449.2 C95.5,445 100.5,442.5 106,442.7 C110.5,443 113.5,445.5 114.5,448.6 Z" fill="#8a5a40" /><path d="M85.2,456.5 L84.8,461.8 L91.5,460.6 L92.5,456.5 Z" fill="#7a5a40" /><path d="M100.6,457 L99.8,463.4 L106.5,462.2 L108,457 Z" fill="#9a5a40" /><path d="M79.8,451.1 C74.08,449.8 68.00,446.58 67.0,445.58 L72.00,453.70 L67.0,461.82000000000005 C68.00,460.82 74.08,457.6 79.8,456.3 Z" fill="#6a5030" /><path d="M78.8,450.8 C85.35,448.84 93.21,448.0 105,448.0 C122.38,448.0 134.70,450.79 136.6,454.2 C134.70,456.48 122.38,458.0 105,458.0 C93.21,458.0 85.35,457.58 78.8,456.6 Z" fill="url(#gpf5)" /><g clip-path="url(#cpf5)"><path d="M123.6,446.0 C126.20,452.00 124.90,456.00 122.95,460.0 L138.6,460.0 L138.6,446.0 Z" fill="#8c8e8c" opacity="0.55"/><path d="M124.10,450.00 C126.85,452.50 125.55,456.50 123.34,458.0" stroke="#a83a2a" stroke-width="0.7" fill="none" opacity="0.8"/><circle cx="132.44" cy="452.03" r="1.3" fill="#c8d0d0"/><circle cx="132.44" cy="452.03" r="0.65" fill="#1a1a1a"/></g><path d="M31.1,503.0 l-5.5,-1.8" stroke="#e6d2c8" stroke-width="0.6" fill="none" opacity="0.9"/><path d="M34.1,503.0 l5.5,-1.8" stroke="#e6d2c8" stroke-width="0.6" fill="none" opacity="0.9"/><path d="M31.1,505.4 l-7.0,-0.5" stroke="#e6d2c8" stroke-width="0.6" fill="none" opacity="0.9"/><path d="M34.1,505.4 l7.0,-0.5" stroke="#e6d2c8" stroke-width="0.6" fill="none" opacity="0.9"/><path d="M31.1,507.8 l-5.5,0.8" stroke="#e6d2c8" stroke-width="0.6" fill="none" opacity="0.9"/><path d="M34.1,507.8 l5.5,0.8" stroke="#e6d2c8" stroke-width="0.6" fill="none" opacity="0.9"/><path d="M31.1,510.2 l-7.0,2.1" stroke="#e6d2c8" stroke-width="0.6" fill="none" opacity="0.9"/><path d="M34.1,510.2 l7.0,2.1" stroke="#e6d2c8" stroke-width="0.6" fill="none" opacity="0.9"/><path d="M31.0,503 L29.56,498.72" stroke="#8c4530" stroke-width="2.09" stroke-linecap="round"/><ellipse cx="28.77" cy="496.37" rx="4.74" ry="1.90" transform="rotate(-108.6 28.77 496.37)" fill="#8c4530"/><path d="M28.48,495.51 L27.40,492.30" stroke="#fdfdfd" stroke-width="0.84" opacity="0.8"/><path d="M34.2,503 L35.32,498.44" stroke="#8c4530" stroke-width="2.09" stroke-linecap="round"/><ellipse cx="35.94" cy="495.93" rx="4.93" ry="1.90" transform="rotate(-76.2 35.94 495.93)" fill="#8c4530"/><path d="M36.16,495.02 L37.00,491.60" stroke="#fdfdfd" stroke-width="0.84" opacity="0.8"/><path d="M30.3,500 C29.7,504 30.5,521 31.1,525 L34.1,525 C34.699999999999996,521 35.5,504 34.9,500 C33.6,497.5 31.6,497.5 30.3,500 Z" fill="url(#gcr32)"/><path d="M30.6,507.0 h4.0" stroke="#6e3322" stroke-width="0.5" opacity="0.6"/><path d="M30.6,510.4 h4.0" stroke="#6e3322" stroke-width="0.5" opacity="0.6"/><path d="M30.6,513.8 h4.0" stroke="#6e3322" stroke-width="0.5" opacity="0.6"/><path d="M30.6,517.2 h4.0" stroke="#6e3322" stroke-width="0.5" opacity="0.6"/><path d="M30.6,520.6 h4.0" stroke="#6e3322" stroke-width="0.5" opacity="0.6"/><path d="M30.6,524.5 L27.0,527.7 Q32.6,528.8 38.2,527.7 L34.6,524.5 Z" fill="#6e3322"/><path d="M93.5,506.0 l-5.5,-1.8" stroke="#a8b896" stroke-width="0.6" fill="none" opacity="0.9"/><path d="M96.5,506.0 l5.5,-1.8" stroke="#a8b896" stroke-width="0.6" fill="none" opacity="0.9"/><path d="M93.5,508.4 l-7.0,-0.5" stroke="#a8b896" stroke-width="0.6" fill="none" opacity="0.9"/><path d="M96.5,508.4 l7.0,-0.5" stroke="#a8b896" stroke-width="0.6" fill="none" opacity="0.9"/><path d="M93.5,510.8 l-5.5,0.8" stroke="#a8b896" stroke-width="0.6" fill="none" opacity="0.9"/><path d="M96.5,510.8 l5.5,0.8" stroke="#a8b896" stroke-width="0.6" fill="none" opacity="0.9"/><path d="M93.5,513.2 l-7.0,2.1" stroke="#a8b896" stroke-width="0.6" fill="none" opacity="0.9"/><path d="M96.5,513.2 l7.0,2.1" stroke="#a8b896" stroke-width="0.6" fill="none" opacity="0.9"/><path d="M93.0,508 L91.64,502.52" stroke="#5f8482" stroke-width="3.08" stroke-linecap="round"/><ellipse cx="90.89" cy="499.51" rx="5.93" ry="2.80" transform="rotate(-103.9 90.89 499.51)" fill="#5f8482"/><path d="M90.62,498.41 L89.60,494.30" stroke="#fdfdfd" stroke-width="1.23" opacity="0.8"/><path d="M97.0,508 L99.40,502.64" stroke="#5f8482" stroke-width="3.08" stroke-linecap="round"/><ellipse cx="100.72" cy="499.69" rx="6.17" ry="2.80" transform="rotate(-65.9 100.72 499.69)" fill="#5f8482"/><path d="M101.20,498.62 L103.00,494.60" stroke="#fdfdfd" stroke-width="1.23" opacity="0.8"/><path d="M92.3,503 C91.7,507 92.5,523.5 93.1,527.5 L96.9,527.5 C97.5,523.5 98.3,507 97.7,503 C96.0,500.5 94.0,500.5 92.3,503 Z" fill="url(#gcr95)"/><path d="M92.6,510.0 h4.8" stroke="#48624c" stroke-width="0.5" opacity="0.6"/><path d="M92.6,513.3 h4.8" stroke="#48624c" stroke-width="0.5" opacity="0.6"/><path d="M92.6,516.6 h4.8" stroke="#48624c" stroke-width="0.5" opacity="0.6"/><path d="M92.6,519.9 h4.8" stroke="#48624c" stroke-width="0.5" opacity="0.6"/><path d="M92.6,523.2 h4.8" stroke="#48624c" stroke-width="0.5" opacity="0.6"/><path d="M93.0,527.0 L89.4,530.2 Q95.0,531.3 100.6,530.2 L97.0,527.0 Z" fill="#48624c"/><path d="M155.0,505.0 l-5.5,-1.8" stroke="#c8c89a" stroke-width="0.6" fill="none" opacity="0.9"/><path d="M158.0,505.0 l5.5,-1.8" stroke="#c8c89a" stroke-width="0.6" fill="none" opacity="0.9"/><path d="M155.0,507.4 l-7.0,-0.5" stroke="#c8c89a" stroke-width="0.6" fill="none" opacity="0.9"/><path d="M158.0,507.4 l7.0,-0.5" stroke="#c8c89a" stroke-width="0.6" fill="none" opacity="0.9"/><path d="M155.0,509.8 l-5.5,0.8" stroke="#c8c89a" stroke-width="0.6" fill="none" opacity="0.9"/><path d="M158.0,509.8 l5.5,0.8" stroke="#c8c89a" stroke-width="0.6" fill="none" opacity="0.9"/><path d="M155.0,512.2 l-7.0,2.1" stroke="#c8c89a" stroke-width="0.6" fill="none" opacity="0.9"/><path d="M158.0,512.2 l7.0,2.1" stroke="#c8c89a" stroke-width="0.6" fill="none" opacity="0.9"/><path d="M154.5,505 L152.14,500.28" stroke="#3f6656" stroke-width="2.75" stroke-linecap="round"/><ellipse cx="150.84" cy="497.68" rx="5.54" ry="2.50" transform="rotate(-116.6 150.84 497.68)" fill="#3f6656"/><path d="M150.37,496.74 L148.60,493.20" stroke="#fdfdfd" stroke-width="1.10" opacity="0.8"/><path d="M158.5,505 L159.34,500.44" stroke="#3f6656" stroke-width="2.53" stroke-linecap="round"/><ellipse cx="159.80" cy="497.93" rx="4.87" ry="2.30" transform="rotate(-79.6 159.80 497.93)" fill="#3f6656"/><path d="M159.97,497.02 L160.60,493.60" stroke="#fdfdfd" stroke-width="1.01" opacity="0.8"/><path d="M153.0,502 C152.4,506 153.2,515.7 153.8,519.7 L159.2,519.7 C159.8,515.7 160.6,506 160.0,502 C157.5,499.5 155.5,499.5 153.0,502 Z" fill="url(#gcr156)"/><path d="M153.3,509.0 h6.4" stroke="#3a3424" stroke-width="0.5" opacity="0.6"/><path d="M153.3,510.9 h6.4" stroke="#3a3424" stroke-width="0.5" opacity="0.6"/><path d="M153.3,512.9 h6.4" stroke="#3a3424" stroke-width="0.5" opacity="0.6"/><path d="M153.3,514.8 h6.4" stroke="#3a3424" stroke-width="0.5" opacity="0.6"/><path d="M153.3,516.8 h6.4" stroke="#3a3424" stroke-width="0.5" opacity="0.6"/><path d="M127,587.4 C121,586.8 115.5,586 110,584.6 C104,583 98,579.5 91.6,578 C87,577 83.5,577.2 81.5,579.8 C79.8,582.5 80.2,587.5 83.4,590.6 C87,593 93,591.5 97,592.6 C100,593.5 101.5,596 101.2,600" stroke="#4a4626" stroke-width="3.3" fill="none" stroke-linecap="round"/><path d="M125,588.5 C120,588.2 115,587.4 110,585.8 C104,584 98,580.8 91.6,579.4 C87.5,578.8 84.8,579.2 83.4,581.2 C82.2,583.3 82.6,587 85,589.3 C88,591.2 93,590.8 97,591.8 C99.6,592.6 100.8,594.6 100.9,597" stroke="#cfc77a" stroke-width="1.3" fill="none" opacity="0.95"/><path d="M120.5,587.8 C123,587.8 125.5,587.6 127.3,587.4 C125.5,588.8 123,589.3 120.5,589 Z" fill="#c8c8a8"/><path d="M114,587 l-1.6,2.6" stroke="#4a4626" stroke-width="1.1"/></svg>
<svg style="position:absolute;left:876.4px;top:10.6px" width="38.4" height="38.6" viewBox="0 0 38.4 38.6"><g fill="#ee5f2a"><rect x="0.000" y="0.000" width="8.145" height="1.284"/><rect x="9.309" y="0.000" width="4.655" height="1.284"/><rect x="15.127" y="0.000" width="1.164" height="1.284"/><rect x="17.455" y="0.000" width="3.491" height="1.284"/><rect x="25.600" y="0.000" width="3.491" height="1.284"/><rect x="30.255" y="0.000" width="8.145" height="1.284"/><rect x="0.000" y="1.164" width="1.164" height="1.284"/><rect x="6.982" y="1.164" width="1.164" height="1.284"/><rect x="9.309" y="1.164" width="1.164" height="1.284"/><rect x="17.455" y="1.164" width="2.327" height="1.284"/><rect x="20.945" y="1.164" width="1.164" height="1.284"/><rect x="24.436" y="1.164" width="4.655" height="1.284"/><rect x="30.255" y="1.164" width="1.164" height="1.284"/><rect x="37.236" y="1.164" width="1.164" height="1.284"/><rect x="0.000" y="2.327" width="1.164" height="1.284"/><rect x="2.327" y="2.327" width="3.491" height="1.284"/><rect x="6.982" y="2.327" width="1.164" height="1.284"/><rect x="9.309" y="2.327" width="1.164" height="1.284"/><rect x="11.636" y="2.327" width="1.164" height="1.284"/><rect x="13.964" y="2.327" width="3.491" height="1.284"/><rect x="19.782" y="2.327" width="1.164" height="1.284"/><rect x="25.600" y="2.327" width="1.164" height="1.284"/><rect x="30.255" y="2.327" width="1.164" height="1.284"/><rect x="32.582" y="2.327" width="3.491" height="1.284"/><rect x="37.236" y="2.327" width="1.164" height="1.284"/><rect x="0.000" y="3.491" width="1.164" height="1.284"/><rect x="2.327" y="3.491" width="3.491" height="1.284"/><rect x="6.982" y="3.491" width="1.164" height="1.284"/><rect x="9.309" y="3.491" width="3.491" height="1.284"/><rect x="16.291" y="3.491" width="2.327" height="1.284"/><rect x="22.109" y="3.491" width="2.327" height="1.284"/><rect x="30.255" y="3.491" width="1.164" height="1.284"/><rect x="32.582" y="3.491" width="3.491" height="1.284"/><rect x="37.236" y="3.491" width="1.164" height="1.284"/><rect x="0.000" y="4.655" width="1.164" height="1.284"/><rect x="2.327" y="4.655" width="3.491" height="1.284"/><rect x="6.982" y="4.655" width="1.164" height="1.284"/><rect x="9.309" y="4.655" width="1.164" height="1.284"/><rect x="12.800" y="4.655" width="6.982" height="1.284"/><rect x="22.109" y="4.655" width="1.164" height="1.284"/><rect x="24.436" y="4.655" width="4.655" height="1.284"/><rect x="30.255" y="4.655" width="1.164" height="1.284"/><rect x="32.582" y="4.655" width="3.491" height="1.284"/><rect x="37.236" y="4.655" width="1.164" height="1.284"/><rect x="0.000" y="5.818" width="1.164" height="1.284"/><rect x="6.982" y="5.818" width="1.164" height="1.284"/><rect x="10.473" y="5.818" width="4.655" height="1.284"/><rect x="16.291" y="5.818" width="2.327" height="1.284"/><rect x="20.945" y="5.818" width="1.164" height="1.284"/><rect x="23.273" y="5.818" width="1.164" height="1.284"/><rect x="26.764" y="5.818" width="1.164" height="1.284"/><rect x="30.255" y="5.818" width="1.164" height="1.284"/><rect x="37.236" y="5.818" width="1.164" height="1.284"/><rect x="0.000" y="6.982" width="8.145" height="1.284"/><rect x="10.473" y="6.982" width="9.309" height="1.284"/><rect x="23.273" y="6.982" width="4.655" height="1.284"/><rect x="30.255" y="6.982" width="8.145" height="1.284"/><rect x="13.964" y="8.145" width="5.818" height="1.284"/><rect x="20.945" y="8.145" width="2.327" height="1.284"/><rect x="25.600" y="8.145" width="2.327" height="1.284"/><rect x="0.000" y="9.309" width="1.164" height="1.284"/><rect x="2.327" y="9.309" width="1.164" height="1.284"/><rect x="4.655" y="9.309" width="1.164" height="1.284"/><rect x="6.982" y="9.309" width="2.327" height="1.284"/><rect x="10.473" y="9.309" width="2.327" height="1.284"/><rect x="13.964" y="9.309" width="5.818" height="1.284"/><rect x="20.945" y="9.309" width="1.164" height="1.284"/><rect x="25.600" y="9.309" width="3.491" height="1.284"/><rect x="31.418" y="9.309" width="2.327" height="1.284"/><rect x="34.909" y="9.309" width="3.491" height="1.284"/><rect x="1.164" y="10.473" width="2.327" height="1.284"/><rect x="6.982" y="10.473" width="3.491" height="1.284"/><rect x="11.636" y="10.473" width="1.164" height="1.284"/><rect x="17.455" y="10.473" width="1.164" height="1.284"/><rect x="19.782" y="10.473" width="1.164" height="1.284"/><rect x="24.436" y="10.473" width="2.327" height="1.284"/><rect x="30.255" y="10.473" width="1.164" height="1.284"/><rect x="32.582" y="10.473" width="4.655" height="1.284"/><rect x="1.164" y="11.636" width="3.491" height="1.284"/><rect x="5.818" y="11.636" width="5.818" height="1.284"/><rect x="13.964" y="11.636" width="2.327" height="1.284"/><rect x="18.618" y="11.636" width="1.164" height="1.284"/><rect x="23.273" y="11.636" width="1.164" height="1.284"/><rect x="25.600" y="11.636" width="3.491" height="1.284"/><rect x="31.418" y="11.636" width="1.164" height="1.284"/><rect x="33.745" y="11.636" width="2.327" height="1.284"/><rect x="2.327" y="12.800" width="1.164" height="1.284"/><rect x="9.309" y="12.800" width="1.164" height="1.284"/><rect x="13.964" y="12.800" width="2.327" height="1.284"/><rect x="20.945" y="12.800" width="1.164" height="1.284"/><rect x="25.600" y="12.800" width="1.164" height="1.284"/><rect x="32.582" y="12.800" width="4.655" height="1.284"/><rect x="1.164" y="13.964" width="4.655" height="1.284"/><rect x="6.982" y="13.964" width="1.164" height="1.284"/><rect x="9.309" y="13.964" width="2.327" height="1.284"/><rect x="15.127" y="13.964" width="4.655" height="1.284"/><rect x="24.436" y="13.964" width="5.818" height="1.284"/><rect x="31.418" y="13.964" width="2.327" height="1.284"/><rect x="2.327" y="15.127" width="3.491" height="1.284"/><rect x="10.473" y="15.127" width="2.327" height="1.284"/><rect x="15.127" y="15.127" width="3.491" height="1.284"/><rect x="19.782" y="15.127" width="3.491" height="1.284"/><rect x="29.091" y="15.127" width="2.327" height="1.284"/><rect x="34.909" y="15.127" width="1.164" height="1.284"/><rect x="0.000" y="16.291" width="2.327" height="1.284"/><rect x="3.491" y="16.291" width="1.164" height="1.284"/><rect x="5.818" y="16.291" width="1.164" height="1.284"/><rect x="8.145" y="16.291" width="4.655" height="1.284"/><rect x="13.964" y="16.291" width="1.164" height="1.284"/><rect x="16.291" y="16.291" width="1.164" height="1.284"/><rect x="18.618" y="16.291" width="4.655" height="1.284"/><rect x="24.436" y="16.291" width="2.327" height="1.284"/><rect x="29.091" y="16.291" width="1.164" height="1.284"/><rect x="32.582" y="16.291" width="2.327" height="1.284"/><rect x="36.073" y="16.291" width="1.164" height="1.284"/><rect x="1.164" y="17.455" width="2.327" height="1.284"/><rect x="5.818" y="17.455" width="3.491" height="1.284"/><rect x="10.473" y="17.455" width="1.164" height="1.284"/><rect x="12.800" y="17.455" width="2.327" height="1.284"/><rect x="17.455" y="17.455" width="3.491" height="1.284"/><rect x="22.109" y="17.455" width="6.982" height="1.284"/><rect x="31.418" y="17.455" width="2.327" height="1.284"/><rect x="34.909" y="17.455" width="2.327" height="1.284"/><rect x="0.000" y="18.618" width="1.164" height="1.284"/><rect x="3.491" y="18.618" width="2.327" height="1.284"/><rect x="6.982" y="18.618" width="2.327" height="1.284"/><rect x="13.964" y="18.618" width="3.491" height="1.284"/><rect x="18.618" y="18.618" width="1.164" height="1.284"/><rect x="20.945" y="18.618" width="2.327" height="1.284"/><rect x="26.764" y="18.618" width="1.164" height="1.284"/><rect x="29.091" y="18.618" width="1.164" height="1.284"/><rect x="34.909" y="18.618" width="2.327" height="1.284"/><rect x="1.164" y="19.782" width="1.164" height="1.284"/><rect x="3.491" y="19.782" width="4.655" height="1.284"/><rect x="10.473" y="19.782" width="3.491" height="1.284"/><rect x="15.127" y="19.782" width="3.491" height="1.284"/><rect x="19.782" y="19.782" width="1.164" height="1.284"/><rect x="23.273" y="19.782" width="1.164" height="1.284"/><rect x="25.600" y="19.782" width="6.982" height="1.284"/><rect x="33.745" y="19.782" width="4.655" height="1.284"/><rect x="1.164" y="20.945" width="1.164" height="1.284"/><rect x="3.491" y="20.945" width="1.164" height="1.284"/><rect x="5.818" y="20.945" width="1.164" height="1.284"/><rect x="9.309" y="20.945" width="2.327" height="1.284"/><rect x="15.127" y="20.945" width="2.327" height="1.284"/><rect x="19.782" y="20.945" width="1.164" height="1.284"/><rect x="26.764" y="20.945" width="1.164" height="1.284"/><rect x="29.091" y="20.945" width="2.327" height="1.284"/><rect x="32.582" y="20.945" width="2.327" height="1.284"/><rect x="36.073" y="20.945" width="2.327" height="1.284"/><rect x="9.309" y="22.109" width="1.164" height="1.284"/><rect x="11.636" y="22.109" width="1.164" height="1.284"/><rect x="15.127" y="22.109" width="1.164" height="1.284"/><rect x="17.455" y="22.109" width="8.145" height="1.284"/><rect x="26.764" y="22.109" width="1.164" height="1.284"/><rect x="29.091" y="22.109" width="4.655" height="1.284"/><rect x="34.909" y="22.109" width="2.327" height="1.284"/><rect x="0.000" y="23.273" width="2.327" height="1.284"/><rect x="5.818" y="23.273" width="1.164" height="1.284"/><rect x="8.145" y="23.273" width="1.164" height="1.284"/><rect x="11.636" y="23.273" width="2.327" height="1.284"/><rect x="15.127" y="23.273" width="1.164" height="1.284"/><rect x="18.618" y="23.273" width="1.164" height="1.284"/><rect x="20.945" y="23.273" width="6.982" height="1.284"/><rect x="29.091" y="23.273" width="1.164" height="1.284"/><rect x="36.073" y="23.273" width="1.164" height="1.284"/><rect x="0.000" y="24.436" width="1.164" height="1.284"/><rect x="2.327" y="24.436" width="4.655" height="1.284"/><rect x="11.636" y="24.436" width="4.655" height="1.284"/><rect x="18.618" y="24.436" width="1.164" height="1.284"/><rect x="22.109" y="24.436" width="1.164" height="1.284"/><rect x="25.600" y="24.436" width="1.164" height="1.284"/><rect x="31.418" y="24.436" width="1.164" height="1.284"/><rect x="33.745" y="24.436" width="1.164" height="1.284"/><rect x="36.073" y="24.436" width="1.164" height="1.284"/><rect x="0.000" y="25.600" width="1.164" height="1.284"/><rect x="3.491" y="25.600" width="3.491" height="1.284"/><rect x="9.309" y="25.600" width="1.164" height="1.284"/><rect x="12.800" y="25.600" width="1.164" height="1.284"/><rect x="15.127" y="25.600" width="1.164" height="1.284"/><rect x="17.455" y="25.600" width="2.327" height="1.284"/><rect x="20.945" y="25.600" width="2.327" height="1.284"/><rect x="24.436" y="25.600" width="2.327" height="1.284"/><rect x="27.927" y="25.600" width="5.818" height="1.284"/><rect x="34.909" y="25.600" width="1.164" height="1.284"/><rect x="37.236" y="25.600" width="1.164" height="1.284"/><rect x="0.000" y="26.764" width="5.818" height="1.284"/><rect x="8.145" y="26.764" width="1.164" height="1.284"/><rect x="11.636" y="26.764" width="1.164" height="1.284"/><rect x="19.782" y="26.764" width="1.164" height="1.284"/><rect x="25.600" y="26.764" width="1.164" height="1.284"/><rect x="27.927" y="26.764" width="1.164" height="1.284"/><rect x="30.255" y="26.764" width="1.164" height="1.284"/><rect x="32.582" y="26.764" width="2.327" height="1.284"/><rect x="0.000" y="27.927" width="2.327" height="1.284"/><rect x="3.491" y="27.927" width="1.164" height="1.284"/><rect x="6.982" y="27.927" width="1.164" height="1.284"/><rect x="11.636" y="27.927" width="3.491" height="1.284"/><rect x="17.455" y="27.927" width="1.164" height="1.284"/><rect x="19.782" y="27.927" width="5.818" height="1.284"/><rect x="31.418" y="27.927" width="1.164" height="1.284"/><rect x="34.909" y="27.927" width="3.491" height="1.284"/><rect x="10.473" y="29.091" width="1.164" height="1.284"/><rect x="12.800" y="29.091" width="1.164" height="1.284"/><rect x="17.455" y="29.091" width="1.164" height="1.284"/><rect x="20.945" y="29.091" width="1.164" height="1.284"/><rect x="24.436" y="29.091" width="2.327" height="1.284"/><rect x="27.927" y="29.091" width="4.655" height="1.284"/><rect x="34.909" y="29.091" width="2.327" height="1.284"/><rect x="0.000" y="30.255" width="8.145" height="1.284"/><rect x="9.309" y="30.255" width="1.164" height="1.284"/><rect x="13.964" y="30.255" width="2.327" height="1.284"/><rect x="17.455" y="30.255" width="1.164" height="1.284"/><rect x="22.109" y="30.255" width="6.982" height="1.284"/><rect x="34.909" y="30.255" width="1.164" height="1.284"/><rect x="37.236" y="30.255" width="1.164" height="1.284"/><rect x="0.000" y="31.418" width="1.164" height="1.284"/><rect x="6.982" y="31.418" width="1.164" height="1.284"/><rect x="11.636" y="31.418" width="2.327" height="1.284"/><rect x="16.291" y="31.418" width="2.327" height="1.284"/><rect x="20.945" y="31.418" width="2.327" height="1.284"/><rect x="24.436" y="31.418" width="2.327" height="1.284"/><rect x="30.255" y="31.418" width="1.164" height="1.284"/><rect x="33.745" y="31.418" width="3.491" height="1.284"/><rect x="0.000" y="32.582" width="1.164" height="1.284"/><rect x="2.327" y="32.582" width="3.491" height="1.284"/><rect x="6.982" y="32.582" width="1.164" height="1.284"/><rect x="9.309" y="32.582" width="1.164" height="1.284"/><rect x="12.800" y="32.582" width="1.164" height="1.284"/><rect x="15.127" y="32.582" width="1.164" height="1.284"/><rect x="18.618" y="32.582" width="6.982" height="1.284"/><rect x="26.764" y="32.582" width="1.164" height="1.284"/><rect x="33.745" y="32.582" width="2.327" height="1.284"/><rect x="37.236" y="32.582" width="1.164" height="1.284"/><rect x="0.000" y="33.745" width="1.164" height="1.284"/><rect x="2.327" y="33.745" width="3.491" height="1.284"/><rect x="6.982" y="33.745" width="1.164" height="1.284"/><rect x="9.309" y="33.745" width="2.327" height="1.284"/><rect x="12.800" y="33.745" width="1.164" height="1.284"/><rect x="15.127" y="33.745" width="1.164" height="1.284"/><rect x="19.782" y="33.745" width="1.164" height="1.284"/><rect x="25.600" y="33.745" width="1.164" height="1.284"/><rect x="27.927" y="33.745" width="1.164" height="1.284"/><rect x="30.255" y="33.745" width="1.164" height="1.284"/><rect x="32.582" y="33.745" width="1.164" height="1.284"/><rect x="34.909" y="33.745" width="3.491" height="1.284"/><rect x="0.000" y="34.909" width="1.164" height="1.284"/><rect x="2.327" y="34.909" width="3.491" height="1.284"/><rect x="6.982" y="34.909" width="1.164" height="1.284"/><rect x="10.473" y="34.909" width="2.327" height="1.284"/><rect x="13.964" y="34.909" width="2.327" height="1.284"/><rect x="18.618" y="34.909" width="1.164" height="1.284"/><rect x="20.945" y="34.909" width="3.491" height="1.284"/><rect x="27.927" y="34.909" width="1.164" height="1.284"/><rect x="30.255" y="34.909" width="2.327" height="1.284"/><rect x="33.745" y="34.909" width="3.491" height="1.284"/><rect x="0.000" y="36.073" width="1.164" height="1.284"/><rect x="6.982" y="36.073" width="1.164" height="1.284"/><rect x="10.473" y="36.073" width="3.491" height="1.284"/><rect x="15.127" y="36.073" width="3.491" height="1.284"/><rect x="19.782" y="36.073" width="1.164" height="1.284"/><rect x="22.109" y="36.073" width="1.164" height="1.284"/><rect x="25.600" y="36.073" width="1.164" height="1.284"/><rect x="30.255" y="36.073" width="1.164" height="1.284"/><rect x="32.582" y="36.073" width="3.491" height="1.284"/><rect x="0.000" y="37.236" width="8.145" height="1.284"/><rect x="10.473" y="37.236" width="1.164" height="1.284"/><rect x="12.800" y="37.236" width="3.491" height="1.284"/><rect x="18.618" y="37.236" width="2.327" height="1.284"/><rect x="22.109" y="37.236" width="4.655" height="1.284"/><rect x="27.927" y="37.236" width="2.327" height="1.284"/><rect x="31.418" y="37.236" width="2.327" height="1.284"/><rect x="34.909" y="37.236" width="1.164" height="1.284"/><rect x="37.236" y="37.236" width="1.164" height="1.284"/></g></svg>
<svg style="position:absolute;left:0;top:0" width="1024" height="80" viewBox="0 0 1024 80"><g stroke="#f46d2a" stroke-width="1.7" fill="none" stroke-linecap="round"><path d="M727.7,30.6 C745,27.5 760,23.5 774.7,21"/><path d="M741.8,21.3 C740.5,27 739,32 737.5,37.6"/><path d="M755.4,10.7 C752,22 749,33 746.5,42 C745.5,45 744,44 743,40"/></g></svg>
<div style="font-family:'Liberation Sans', sans-serif;font-style:italic;color:#f46d2a;white-space:nowrap;position:absolute;font-size:16px;line-height:16px;left:753.5px;top:20.66px;transform:rotate(-5.7deg) scaleX(1.05);transform-origin:0 13.54px;">oraires lever et</div>
<div style="font-family:'Liberation Sans', sans-serif;font-style:italic;color:#f46d2a;white-space:nowrap;position:absolute;font-size:16px;line-height:16px;left:730.5px;top:43.66px;transform:rotate(-5.2deg) scaleX(0.985);transform-origin:0 13.54px;">coucher du soleil</div>
<div style="position:absolute;left:856px;top:163px;width:158px;height:106px;background:linear-gradient(100deg,#21443f 0%,#1b3431 40%,#17211f 100%)"></div>
<div style="position:absolute;left:868px;top:167px;width:137px;height:96px;background:#fdfdfd;border-radius:5px"></div>
<svg style="position:absolute;left:0;top:0" width="1024" height="726" viewBox="0 0 1024 726"><defs><linearGradient id="gpike" x1="0" y1="0" x2="0" y2="1"><stop offset="0" stop-color="#35432a"/><stop offset="0.3" stop-color="#5f7248"/><stop offset="0.6" stop-color="#8a9c6c"/><stop offset="0.8" stop-color="#c5cdb2"/><stop offset="1" stop-color="#e2e6d8"/></linearGradient><linearGradient id="gzan" x1="0" y1="0" x2="0" y2="1"><stop offset="0" stop-color="#3e3828"/><stop offset="0.25" stop-color="#766c54"/><stop offset="0.5" stop-color="#b0a68c"/><stop offset="0.7" stop-color="#dcdad0"/><stop offset="1" stop-color="#ececea"/></linearGradient><linearGradient id="gpf1" x1="0" y1="0" x2="0" y2="1"><stop offset="0" stop-color="#3a4530"/><stop offset="0.3" stop-color="#66704f"/><stop offset="0.42" stop-color="#b89088"/><stop offset="0.52" stop-color="#c89696"/><stop offset="0.62" stop-color="#aab4b8"/><stop offset="0.85" stop-color="#d4d9da"/><stop offset="1" stop-color="#e2e6e6"/></linearGradient><clipPath id="cpf1"><path d="M68,245.4 C76.00,241.83 85.60,240.3 100,240.3 C119.36,240.3 133.09,244.03 135.2,248.6 C133.09,253.76 119.36,257.2 100,257.2 C85.60,257.2 76.00,255.76 68,252.4 Z"/></clipPath><linearGradient id="gpf2" x1="0" y1="0" x2="0" y2="1"><stop offset="0" stop-color="#2a3428"/><stop offset="0.3" stop-color="#3e5244"/><stop offset="0.55" stop-color="#4f6a62"/><stop offset="0.72" stop-color="#7a6a48"/><stop offset="0.8" stop-color="#c8602e"/><stop offset="1" stop-color="#d86232"/></linearGradient><clipPath id="cpf2"><path d="M82.3,302.0 C87.97,300.60 94.78,300.0 105,300.0 C120.34,300.0 131.23,302.25 132.9,305.0 C131.23,307.76 120.34,309.6 105,309.6 C94.78,309.6 87.97,309.06 82.3,307.8 Z"/></clipPath><linearGradient id="gpf3" x1="0" y1="0" x2="0" y2="1"><stop offset="0" stop-color="#5a5232"/><stop offset="0.3" stop-color="#958e62"/><stop offset="0.55" stop-color="#c6c49c"/><stop offset="0.8" stop-color="#dde0b2"/><stop offset="1" stop-color="#e8ebc6"/></linearGradient><clipPath id="cpf3"><path d="M25.3,320.0 C32.73,317.76 41.63,316.8 55,316.8 C72.60,316.8 85.08,320.22 87.0,324.4 C85.08,328.90 72.60,331.9 55,331.9 C41.63,331.9 32.73,330.79 25.3,328.2 Z"/></clipPath><linearGradient id="gpf4" x1="0" y1="0" x2="0" y2="1"><stop offset="0" stop-color="#5a5a3c"/><stop offset="0.3" stop-color="#8c8c6a"/><stop offset="0.5" stop-color="#bfc2bb"/><stop offset="0.75" stop-color="#d6d8d8"/><stop offset="1" stop-color="#e4e6e6"/></linearGradient><clipPath id="cpf4"><path d="M122.0,322.0 C129.50,320.32 138.50,319.6 152,319.6 C169.77,319.6 182.36,323.56 184.3,328.4 C182.36,331.52 169.77,333.6 152,333.6 C138.50,333.6 129.50,332.52 122.0,330.0 Z"/></clipPath><linearGradient id="gcarp" x1="0" y1="0" x2="0" y2="1"><stop offset="0" stop-color="#5a4e2c"/><stop offset="0.3" stop-color="#7e7042"/><stop offset="0.6" stop-color="#a08e5e"/><stop offset="0.82" stop-color="#d0b490"/><stop offset="1" stop-color="#e8cfc0"/></linearGradient><linearGradient id="gpf5" x1="0" y1="0" x2="0" y2="1"><stop offset="0" stop-color="#382c20"/><stop offset="0.35" stop-color="#5c5242"/><stop offset="0.6" stop-color="#7a7562"/><stop offset="0.85" stop-color="#cbc3b0"/><stop offset="1" stop-color="#e2dacb"/></linearGradient><clipPath id="cpf5"><path d="M78.8,450.8 C85.35,448.84 93.21,448.0 105,448.0 C122.38,448.0 134.70,450.79 136.6,454.2 C134.70,456.48 122.38,458.0 105,458.0 C93.21,458.0 85.35,457.58 78.8,456.6 Z"/></clipPath><linearGradient id="gcr32" x1="0" y1="0" x2="0" y2="1"><stop offset="0" stop-color="#8c4530"/><stop offset="1" stop-color="#6e3322"/></linearGradient><linearGradient id="gcr95" x1="0" y1="0" x2="0" y2="1"><stop offset="0" stop-color="#5f8482"/><stop offset="1" stop-color="#48624c"/></linearGradient><linearGradient id="gcr156" x1="0" y1="0" x2="0" y2="1"><stop offset="0" stop-color="#3f6656"/><stop offset="1" stop-color="#3a3424"/></linearGradient></defs><g transform="translate(996,42.5) scale(-1,1) translate(0,0)"><path d="M28,141.5 L31,132.3 C36,132 41,135 44.5,138.8 Z" fill="#7f8a58" /><path d="M25,143.3 L13.5,139.6 L16.5,146.5 Z" fill="#8f9a80" /><path d="M25,147.8 L16.5,146.5 L13.5,155.2 Z" fill="#8a5a38" /><path d="M30.5,149 L34.5,155.6 L41,155.2 L39,149.6 Z" fill="#9a6238" /><path d="M53,150.3 L52.8,155.6 L59.2,155.6 L60.3,150 Z" fill="#b0703c" /><path d="M77,149.8 L75.6,155.6 L81,155 L83.5,149.4 Z" fill="#a8683a" /><path d="M24,143.3 C30,141.5 36,138.6 46,137.6 C60,136.6 75,137 85,139.3 C92,141 99,143.3 104.8,145.6 C100,147 93,148.4 85,149.6 C70,151.1 50,151.2 36,149.8 C30,149.2 26,148.6 24,148 Z" fill="url(#gpike)" /><ellipse cx="45.9" cy="143.9" rx="0.9" ry="0.5" fill="#bccaa0" opacity="0.65"/><ellipse cx="52.5" cy="144.3" rx="0.9" ry="0.5" fill="#bccaa0" opacity="0.65"/><ellipse cx="65.3" cy="140.0" rx="0.9" ry="0.5" fill="#bccaa0" opacity="0.65"/><ellipse cx="34.7" cy="146.2" rx="0.9" ry="0.5" fill="#bccaa0" opacity="0.65"/><ellipse cx="47.0" cy="141.4" rx="0.9" ry="0.5" fill="#bccaa0" opacity="0.65"/><ellipse cx="83.8" cy="143.3" rx="0.9" ry="0.5" fill="#bccaa0" opacity="0.65"/><ellipse cx="75.8" cy="143.3" rx="0.9" ry="0.5" fill="#bccaa0" opacity="0.65"/><ellipse cx="66.0" cy="140.7" rx="0.9" ry="0.5" fill="#bccaa0" opacity="0.65"/><ellipse cx="65.7" cy="146.4" rx="0.9" ry="0.5" fill="#bccaa0" opacity="0.65"/><ellipse cx="60.2" cy="145.4" rx="0.9" ry="0.5" fill="#bccaa0" opacity="0.65"/><ellipse cx="67.6" cy="140.0" rx="0.9" ry="0.5" fill="#bccaa0" opacity="0.65"/><ellipse cx="71.9" cy="144.2" rx="0.9" ry="0.5" fill="#bccaa0" opacity="0.65"/><ellipse cx="49.1" cy="139.7" rx="0.9" ry="0.5" fill="#bccaa0" opacity="0.65"/><ellipse cx="77.3" cy="143.3" rx="0.9" ry="0.5" fill="#bccaa0" opacity="0.65"/><ellipse cx="69.9" cy="146.5" rx="0.9" ry="0.5" fill="#bccaa0" opacity="0.65"/><ellipse cx="69.7" cy="146.9" rx="0.9" ry="0.5" fill="#bccaa0" opacity="0.65"/><ellipse cx="53.7" cy="145.9" rx="0.9" ry="0.5" fill="#bccaa0" opacity="0.65"/><ellipse cx="56.2" cy="147.0" rx="0.9" ry="0.5" fill="#bccaa0" opacity="0.65"/><ellipse cx="77.9" cy="140.3" rx="0.9" ry="0.5" fill="#bccaa0" opacity="0.65"/><ellipse cx="40.8" cy="141.2" rx="0.9" ry="0.5" fill="#bccaa0" opacity="0.65"/><ellipse cx="82.3" cy="143.0" rx="0.9" ry="0.5" fill="#bccaa0" opacity="0.65"/><ellipse cx="65.3" cy="141.9" rx="0.9" ry="0.5" fill="#bccaa0" opacity="0.65"/><ellipse cx="59.4" cy="142.6" rx="0.9" ry="0.5" fill="#bccaa0" opacity="0.65"/><ellipse cx="51.5" cy="144.2" rx="0.9" ry="0.5" fill="#bccaa0" opacity="0.65"/><ellipse cx="63.2" cy="146.7" rx="0.9" ry="0.5" fill="#bccaa0" opacity="0.65"/><ellipse cx="68.1" cy="146.9" rx="0.9" ry="0.5" fill="#bccaa0" opacity="0.65"/><ellipse cx="76.8" cy="147.4" rx="0.9" ry="0.5" fill="#bccaa0" opacity="0.65"/><ellipse cx="67.6" cy="140.8" rx="0.9" ry="0.5" fill="#bccaa0" opacity="0.65"/><ellipse cx="77.0" cy="147.2" rx="0.9" ry="0.5" fill="#bccaa0" opacity="0.65"/><ellipse cx="79.2" cy="144.1" rx="0.9" ry="0.5" fill="#bccaa0" opacity="0.65"/><ellipse cx="69.7" cy="141.2" rx="0.9" ry="0.5" fill="#bccaa0" opacity="0.65"/><ellipse cx="75.6" cy="144.1" rx="0.9" ry="0.5" fill="#bccaa0" opacity="0.65"/><ellipse cx="48.2" cy="140.0" rx="0.9" ry="0.5" fill="#bccaa0" opacity="0.65"/><ellipse cx="76.7" cy="147.4" rx="0.9" ry="0.5" fill="#bccaa0" opacity="0.65"/><ellipse cx="38.4" cy="145.9" rx="0.9" ry="0.5" fill="#bccaa0" opacity="0.65"/><ellipse cx="54.5" cy="140.7" rx="0.9" ry="0.5" fill="#bccaa0" opacity="0.65"/><ellipse cx="48.7" cy="145.7" rx="0.9" ry="0.5" fill="#bccaa0" opacity="0.65"/><ellipse cx="77.6" cy="139.9" rx="0.9" ry="0.5" fill="#bccaa0" opacity="0.65"/><ellipse cx="64.7" cy="139.9" rx="0.9" ry="0.5" fill="#bccaa0" opacity="0.65"/><ellipse cx="69.9" cy="142.1" rx="0.9" ry="0.5" fill="#bccaa0" opacity="0.65"/><ellipse cx="78.0" cy="147.3" rx="0.9" ry="0.5" fill="#bccaa0" opacity="0.65"/><ellipse cx="59.3" cy="147.5" rx="0.9" ry="0.5" fill="#bccaa0" opacity="0.65"/><ellipse cx="49.5" cy="140.1" rx="0.9" ry="0.5" fill="#bccaa0" opacity="0.65"/><ellipse cx="64.0" cy="139.8" rx="0.9" ry="0.5" fill="#bccaa0" opacity="0.65"/><ellipse cx="43.9" cy="142.8" rx="0.9" ry="0.5" fill="#bccaa0" opacity="0.65"/><ellipse cx="64.5" cy="140.7" rx="0.9" ry="0.5" fill="#bccaa0" opacity="0.65"/><ellipse cx="36.1" cy="146.4" rx="0.9" ry="0.5" fill="#bccaa0" opacity="0.65"/><ellipse cx="49.7" cy="147.2" rx="0.9" ry="0.5" fill="#bccaa0" opacity="0.65"/><ellipse cx="78.8" cy="142.5" rx="0.9" ry="0.5" fill="#bccaa0" opacity="0.65"/><ellipse cx="57.0" cy="143.7" rx="0.9" ry="0.5" fill="#bccaa0" opacity="0.65"/><ellipse cx="66.2" cy="144.3" rx="0.9" ry="0.5" fill="#bccaa0" opacity="0.65"/><ellipse cx="62.0" cy="144.5" rx="0.9" ry="0.5" fill="#bccaa0" opacity="0.65"/><ellipse cx="81.0" cy="143.6" rx="0.9" ry="0.5" fill="#bccaa0" opacity="0.65"/><ellipse cx="55.6" cy="145.3" rx="0.9" ry="0.5" fill="#bccaa0" opacity="0.65"/><ellipse cx="45.9" cy="141.9" rx="0.9" ry="0.5" fill="#bccaa0" opacity="0.65"/><ellipse cx="82.9" cy="143.7" rx="0.9" ry="0.5" fill="#bccaa0" opacity="0.65"/><ellipse cx="61.4" cy="139.6" rx="0.9" ry="0.5" fill="#bccaa0" opacity="0.65"/><ellipse cx="54.8" cy="144.1" rx="0.9" ry="0.5" fill="#bccaa0" opacity="0.65"/><ellipse cx="35.0" cy="144.4" rx="0.9" ry="0.5" fill="#bccaa0" opacity="0.65"/><ellipse cx="65.6" cy="140.0" rx="0.9" ry="0.5" fill="#bccaa0" opacity="0.65"/><path d="M86,144.5 C92,144.3 98,144.6 104.8,145.6 C99,146.8 92,147.6 86,147.8 Z" fill="#d6ddc6" /></g><rect x="871.4" y="215.9" width="64" height="7.5" fill="#e53524"/><rect x="935.4" y="215.9" width="21.6" height="7.5" fill="#3daa48"/><rect x="957" y="215.9" width="42.7" height="7.5" fill="#e53524"/><rect x="871.40" y="215.9" width="0.4" height="5" fill="#6a1a10"/><rect x="873.54" y="215.9" width="0.4" height="3.4" fill="#6a1a10"/><rect x="875.68" y="215.9" width="0.4" height="3.4" fill="#6a1a10"/><rect x="877.81" y="215.9" width="0.4" height="3.4" fill="#6a1a10"/><rect x="879.95" y="215.9" width="0.4" height="3.4" fill="#6a1a10"/><rect x="882.09" y="215.9" width="0.4" height="5" fill="#6a1a10"/><rect x="884.23" y="215.9" width="0.4" height="3.4" fill="#6a1a10"/><rect x="886.37" y="215.9" width="0.4" height="3.4" fill="#6a1a10"/><rect x="888.51" y="215.9" width="0.4" height="3.4" fill="#6a1a10"/><rect x="890.64" y="215.9" width="0.4" height="3.4" fill="#6a1a10"/><rect x="892.78" y="215.9" width="0.4" height="5" fill="#6a1a10"/><rect x="894.92" y="215.9" width="0.4" height="3.4" fill="#6a1a10"/><rect x="897.06" y="215.9" width="0.4" height="3.4" fill="#6a1a10"/><rect x="899.20" y="215.9" width="0.4" height="3.4" fill="#6a1a10"/><rect x="901.34" y="215.9" width="0.4" height="3.4" fill="#6a1a10"/><rect x="903.48" y="215.9" width="0.4" height="5" fill="#6a1a10"/><rect x="905.61" y="215.9" width="0.4" height="3.4" fill="#6a1a10"/><rect x="907.75" y="215.9" width="0.4" height="3.4" fill="#6a1a10"/><rect x="909.89" y="215.9" width="0.4" height="3.4" fill="#6a1a10"/><rect x="912.03" y="215.9" width="0.4" height="3.4" fill="#6a1a10"/><rect x="914.17" y="215.9" width="0.4" height="5" fill="#6a1a10"/><rect x="916.30" y="215.9" width="0.4" height="3.4" fill="#6a1a10"/><rect x="918.44" y="215.9" width="0.4" height="3.4" fill="#6a1a10"/><rect x="920.58" y="215.9" width="0.4" height="3.4" fill="#6a1a10"/><rect x="922.72" y="215.9" width="0.4" height="3.4" fill="#6a1a10"/><rect x="924.86" y="215.9" width="0.4" height="5" fill="#6a1a10"/><rect x="927.00" y="215.9" width="0.4" height="3.4" fill="#6a1a10"/><rect x="929.13" y="215.9" width="0.4" height="3.4" fill="#6a1a10"/><rect x="931.27" y="215.9" width="0.4" height="3.4" fill="#6a1a10"/><rect x="933.41" y="215.9" width="0.4" height="3.4" fill="#6a1a10"/><rect x="935.55" y="215.9" width="0.4" height="5" fill="#6a1a10"/><rect x="937.69" y="215.9" width="0.4" height="3.4" fill="#6a1a10"/><rect x="939.83" y="215.9" width="0.4" height="3.4" fill="#6a1a10"/><rect x="941.97" y="215.9" width="0.4" height="3.4" fill="#6a1a10"/><rect x="944.10" y="215.9" width="0.4" height="3.4" fill="#6a1a10"/><rect x="946.24" y="215.9" width="0.4" height="5" fill="#6a1a10"/><rect x="948.38" y="215.9" width="0.4" height="3.4" fill="#6a1a10"/><rect x="950.52" y="215.9" width="0.4" height="3.4" fill="#6a1a10"/><rect x="952.66" y="215.9" width="0.4" height="3.4" fill="#6a1a10"/><rect x="954.79" y="215.9" width="0.4" height="3.4" fill="#6a1a10"/><rect x="956.93" y="215.9" width="0.4" height="5" fill="#6a1a10"/><rect x="959.07" y="215.9" width="0.4" height="3.4" fill="#6a1a10"/><rect x="961.21" y="215.9" width="0.4" height="3.4" fill="#6a1a10"/><rect x="963.35" y="215.9" width="0.4" height="3.4" fill="#6a1a10"/><rect x="965.49" y="215.9" width="0.4" height="3.4" fill="#6a1a10"/><rect x="967.62" y="215.9" width="0.4" height="5" fill="#6a1a10"/><rect x="969.76" y="215.9" width="0.4" height="3.4" fill="#6a1a10"/><rect x="971.90" y="215.9" width="0.4" height="3.4" fill="#6a1a10"/><rect x="974.04" y="215.9" width="0.4" height="3.4" fill="#6a1a10"/><rect x="976.18" y="215.9" width="0.4" height="3.4" fill="#6a1a10"/><rect x="978.32" y="215.9" width="0.4" height="5" fill="#6a1a10"/><rect x="980.45" y="215.9" width="0.4" height="3.4" fill="#6a1a10"/><rect x="982.59" y="215.9" width="0.4" height="3.4" fill="#6a1a10"/><rect x="984.73" y="215.9" width="0.4" height="3.4" fill="#6a1a10"/><rect x="986.87" y="215.9" width="0.4" height="3.4" fill="#6a1a10"/><rect x="989.01" y="215.9" width="0.4" height="5" fill="#6a1a10"/><rect x="991.15" y="215.9" width="0.4" height="3.4" fill="#6a1a10"/><rect x="993.28" y="215.9" width="0.4" height="3.4" fill="#6a1a10"/><rect x="995.42" y="215.9" width="0.4" height="3.4" fill="#6a1a10"/><rect x="997.56" y="215.9" width="0.4" height="3.4" fill="#6a1a10"/><rect x="999.70" y="215.9" width="0.4" height="5" fill="#6a1a10"/><text x="871.80" y="229.5" font-size="2.6" fill="#888" text-anchor="middle" font-family="Liberation Sans">0</text><text x="882.49" y="229.5" font-size="2.6" fill="#888" text-anchor="middle" font-family="Liberation Sans">10</text><text x="893.18" y="229.5" font-size="2.6" fill="#888" text-anchor="middle" font-family="Liberation Sans">20</text><text x="903.88" y="229.5" font-size="2.6" fill="#888" text-anchor="middle" font-family="Liberation Sans">30</text><text x="914.57" y="229.5" font-size="2.6" fill="#888" text-anchor="middle" font-family="Liberation Sans">40</text><text x="925.26" y="229.5" font-size="2.6" fill="#888" text-anchor="middle" font-family="Liberation Sans">50</text><text x="935.95" y="229.5" font-size="2.6" fill="#888" text-anchor="middle" font-family="Liberation Sans">60</text><text x="946.64" y="229.5" font-size="2.6" fill="#888" text-anchor="middle" font-family="Liberation Sans">70</text><text x="957.33" y="229.5" font-size="2.6" fill="#888" text-anchor="middle" font-family="Liberation Sans">80</text><text x="968.02" y="229.5" font-size="2.6" fill="#888" text-anchor="middle" font-family="Liberation Sans">90</text><text x="978.72" y="229.5" font-size="2.6" fill="#888" text-anchor="middle" font-family="Liberation Sans">100</text><text x="989.41" y="229.5" font-size="2.6" fill="#888" text-anchor="middle" font-family="Liberation Sans">110</text><text x="1000.10" y="229.5" font-size="2.6" fill="#888" text-anchor="middle" font-family="Liberation Sans">120</text><text x="903" y="213.2" font-size="2.6" fill="#d8402a" text-anchor="middle" font-family="Liberation Sans" font-weight="bold">Remise à l’eau obligatoire</text><text x="981" y="213.2" font-size="2.6" fill="#d8402a" text-anchor="middle" font-family="Liberation Sans" font-weight="bold">Remise à l’eau obligatoire</text><rect x="946" y="230" width="0.8" height="6.5" fill="#3daa48"/><circle cx="946.3" cy="242.2" r="5.6" fill="none" stroke="#3daa48" stroke-width="1.6"/><path d="M943.3,242 L945.6,244.4 L951,238.6" fill="none" stroke="#3daa48" stroke-width="1.8"/><text x="946.3" y="253.6" font-size="2.7" fill="#3a9a40" text-anchor="middle" font-family="Liberation Sans" font-weight="bold">Prélèvements autorisés</text><text x="946.3" y="257.8" font-size="2.4" fill="#3a9a40" text-anchor="middle" font-family="Liberation Sans" font-weight="bold">Maille fenêtre 60-80 cm</text></svg>
<div style="position:absolute;left:440px;top:0;width:130px;height:726px;pointer-events:none;background:linear-gradient(to right, rgba(40,40,40,0) 0px, rgba(40,40,40,0.02) 20px, rgba(40,40,40,0.05) 40px, rgba(40,40,40,0.08) 55px, rgba(40,40,40,0.11) 65px, rgba(40,40,40,0.13) 71px, rgba(255,255,255,0.2) 71.3px, rgba(255,255,255,0.2) 71.8px, rgba(40,40,40,0.16) 72.1px, rgba(40,40,40,0.155) 76px, rgba(40,40,40,0.1) 85px, rgba(40,40,40,0.055) 95px, rgba(40,40,40,0.02) 110px, rgba(40,40,40,0) 125px)"></div>
</body></html>
